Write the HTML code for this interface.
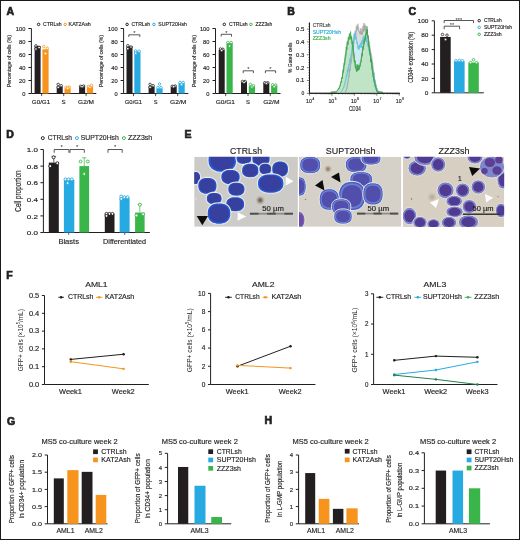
<!DOCTYPE html>
<html><head><meta charset="utf-8"><style>
html,body{margin:0;padding:0;background:#fff;}
svg{display:block;font-family:"Liberation Sans", sans-serif;will-change:transform;}
</style></head><body>
<svg width="520" height="540" viewBox="0 0 520 540">
<rect x="0.5" y="0.5" width="519" height="539" fill="#fff" stroke="#1a1a1a" stroke-width="1"/>
<text x="6.5" y="14.6" font-size="10.5" text-anchor="start" fill="#231f20" font-weight="bold" stroke="#231f20" stroke-width="0.7">A</text>
<text x="287.3" y="14.6" font-size="10.5" text-anchor="start" fill="#231f20" font-weight="bold" stroke="#231f20" stroke-width="0.7">B</text>
<text x="408.5" y="14.6" font-size="10.5" text-anchor="start" fill="#231f20" font-weight="bold" stroke="#231f20" stroke-width="0.7">C</text>
<text x="6.3" y="138.2" font-size="10.5" text-anchor="start" fill="#231f20" font-weight="bold" stroke="#231f20" stroke-width="0.7">D</text>
<text x="184.4" y="137.5" font-size="10.5" text-anchor="start" fill="#231f20" font-weight="bold" stroke="#231f20" stroke-width="0.7">E</text>
<text x="6.3" y="279" font-size="10.5" text-anchor="start" fill="#231f20" font-weight="bold" stroke="#231f20" stroke-width="0.7">F</text>
<text x="7" y="424.5" font-size="10.5" text-anchor="start" fill="#231f20" font-weight="bold" stroke="#231f20" stroke-width="0.7">G</text>
<text x="264.6" y="424.2" font-size="10.5" text-anchor="start" fill="#231f20" font-weight="bold" stroke="#231f20" stroke-width="0.7">H</text>
<g>
<line x1="31.4" y1="28.5" x2="31.4" y2="93.5" stroke="#231f20" stroke-width="1.0"/>
<line x1="28.4" y1="93.5" x2="31.4" y2="93.5" stroke="#231f20" stroke-width="1.0"/>
<text x="25.4" y="95.696" font-size="6.1" text-anchor="end" fill="#231f20" font-weight="normal" textLength="3.1999999999999997" lengthAdjust="spacingAndGlyphs" stroke="#231f20" stroke-width="0.15">0</text>
<line x1="28.4" y1="80.5" x2="31.4" y2="80.5" stroke="#231f20" stroke-width="1.0"/>
<text x="25.4" y="82.696" font-size="6.1" text-anchor="end" fill="#231f20" font-weight="normal" textLength="6.3999999999999995" lengthAdjust="spacingAndGlyphs" stroke="#231f20" stroke-width="0.15">20</text>
<line x1="28.4" y1="67.5" x2="31.4" y2="67.5" stroke="#231f20" stroke-width="1.0"/>
<text x="25.4" y="69.696" font-size="6.1" text-anchor="end" fill="#231f20" font-weight="normal" textLength="6.3999999999999995" lengthAdjust="spacingAndGlyphs" stroke="#231f20" stroke-width="0.15">40</text>
<line x1="28.4" y1="54.5" x2="31.4" y2="54.5" stroke="#231f20" stroke-width="1.0"/>
<text x="25.4" y="56.696" font-size="6.1" text-anchor="end" fill="#231f20" font-weight="normal" textLength="6.3999999999999995" lengthAdjust="spacingAndGlyphs" stroke="#231f20" stroke-width="0.15">60</text>
<line x1="28.4" y1="41.5" x2="31.4" y2="41.5" stroke="#231f20" stroke-width="1.0"/>
<text x="25.4" y="43.696" font-size="6.1" text-anchor="end" fill="#231f20" font-weight="normal" textLength="6.3999999999999995" lengthAdjust="spacingAndGlyphs" stroke="#231f20" stroke-width="0.15">80</text>
<line x1="28.4" y1="28.5" x2="31.4" y2="28.5" stroke="#231f20" stroke-width="1.0"/>
<text x="25.4" y="30.695999999999998" font-size="6.1" text-anchor="end" fill="#231f20" font-weight="normal" textLength="9.6" lengthAdjust="spacingAndGlyphs" stroke="#231f20" stroke-width="0.15">100</text>
<line x1="31.4" y1="93.5" x2="96.3" y2="93.5" stroke="#231f20" stroke-width="1.0"/>
<line x1="41.6" y1="93.5" x2="41.6" y2="96.1" stroke="#231f20" stroke-width="0.8"/>
<rect x="34.6" y="45.855" width="6.0" height="47.645" fill="#231f20"/>
<circle cx="35.92" cy="45.855" r="1.25" fill="#fff" stroke="#231f20" stroke-width="0.8"/>
<circle cx="35.92" cy="48.975" r="1.25" fill="#fff" stroke="#231f20" stroke-width="0.8"/>
<circle cx="39.1" cy="47.544999999999995" r="1.25" fill="#fff" stroke="#231f20" stroke-width="0.8"/>
<rect x="42.4" y="49.3" width="6.200000000000003" height="44.2" fill="#f7941d"/>
<circle cx="43.763999999999996" cy="46.505" r="1.25" fill="#fff" stroke="#f7941d" stroke-width="0.8"/>
<circle cx="47.236000000000004" cy="48.324999999999996" r="1.25" fill="#fff" stroke="#f7941d" stroke-width="0.8"/>
<circle cx="45.5" cy="53.525" r="1.25" fill="#fff" stroke="#f7941d" stroke-width="0.8"/>
<line x1="63.7" y1="93.5" x2="63.7" y2="96.1" stroke="#231f20" stroke-width="0.8"/>
<rect x="56.7" y="86.35" width="6.0" height="7.15" fill="#231f20"/>
<circle cx="58.2" cy="84.4" r="1.25" fill="#fff" stroke="#231f20" stroke-width="0.8"/>
<circle cx="61.2" cy="85.7" r="1.25" fill="#fff" stroke="#231f20" stroke-width="0.8"/>
<circle cx="58.2" cy="87.325" r="1.25" fill="#fff" stroke="#231f20" stroke-width="0.8"/>
<rect x="64.5" y="88.3" width="6.200000000000003" height="5.2" fill="#f7941d"/>
<circle cx="66.05" cy="87.325" r="1.25" fill="#fff" stroke="#f7941d" stroke-width="0.8"/>
<circle cx="69.15" cy="87.0" r="1.25" fill="#fff" stroke="#f7941d" stroke-width="0.8"/>
<circle cx="67.6" cy="88.3" r="1.25" fill="#fff" stroke="#f7941d" stroke-width="0.8"/>
<line x1="86.1" y1="93.5" x2="86.1" y2="96.1" stroke="#231f20" stroke-width="0.8"/>
<rect x="79.1" y="86.35" width="6.0" height="7.15" fill="#231f20"/>
<circle cx="80.6" cy="86.35" r="1.25" fill="#fff" stroke="#231f20" stroke-width="0.8"/>
<circle cx="83.6" cy="86.025" r="1.25" fill="#fff" stroke="#231f20" stroke-width="0.8"/>
<circle cx="82.1" cy="86.675" r="1.25" fill="#fff" stroke="#231f20" stroke-width="0.8"/>
<rect x="86.89999999999999" y="86.35" width="6.200000000000003" height="7.15" fill="#f7941d"/>
<circle cx="88.44999999999999" cy="86.35" r="1.25" fill="#fff" stroke="#f7941d" stroke-width="0.8"/>
<circle cx="91.55" cy="85.375" r="1.25" fill="#fff" stroke="#f7941d" stroke-width="0.8"/>
<circle cx="90.0" cy="87.325" r="1.25" fill="#fff" stroke="#f7941d" stroke-width="0.8"/>
<circle cx="38.6" cy="24.4" r="1.25" fill="#fff" stroke="#231f20" stroke-width="1.0"/>
<text x="43.0" y="26.299999999999997" font-size="5.2" text-anchor="start" fill="#231f20" font-weight="normal" textLength="18.7" lengthAdjust="spacingAndGlyphs" stroke="#231f20" stroke-width="0.15">CTRLsh</text>
<circle cx="65.2" cy="24.4" r="1.25" fill="#fff" stroke="#f7941d" stroke-width="1.0"/>
<text x="68.6" y="26.299999999999997" font-size="5.2" text-anchor="start" fill="#231f20" font-weight="normal" textLength="22.2" lengthAdjust="spacingAndGlyphs" stroke="#231f20" stroke-width="0.15">KAT2Ash</text>
<text x="41.0" y="104.2" font-size="5.9" text-anchor="middle" fill="#231f20" font-weight="normal" textLength="18.4" lengthAdjust="spacingAndGlyphs" stroke="#231f20" stroke-width="0.15">G0/G1</text>
<text x="63.65" y="104.2" font-size="5.9" text-anchor="middle" fill="#231f20" font-weight="normal" textLength="4.1" lengthAdjust="spacingAndGlyphs" stroke="#231f20" stroke-width="0.15">S</text>
<text x="86.05" y="104.2" font-size="5.9" text-anchor="middle" fill="#231f20" font-weight="normal" textLength="15.9" lengthAdjust="spacingAndGlyphs" stroke="#231f20" stroke-width="0.15">G2/M</text>
<text transform="translate(11.0,61.1) rotate(-90)" font-size="5.9" text-anchor="middle" fill="#231f20" font-weight="normal" textLength="51.8" lengthAdjust="spacingAndGlyphs" stroke="#231f20" stroke-width="0.15">Percentage of cells (%)</text>
<line x1="123.6" y1="28.5" x2="123.6" y2="93.5" stroke="#231f20" stroke-width="1.0"/>
<line x1="120.6" y1="93.5" x2="123.6" y2="93.5" stroke="#231f20" stroke-width="1.0"/>
<text x="117.6" y="95.696" font-size="6.1" text-anchor="end" fill="#231f20" font-weight="normal" textLength="3.1999999999999997" lengthAdjust="spacingAndGlyphs" stroke="#231f20" stroke-width="0.15">0</text>
<line x1="120.6" y1="80.5" x2="123.6" y2="80.5" stroke="#231f20" stroke-width="1.0"/>
<text x="117.6" y="82.696" font-size="6.1" text-anchor="end" fill="#231f20" font-weight="normal" textLength="6.3999999999999995" lengthAdjust="spacingAndGlyphs" stroke="#231f20" stroke-width="0.15">20</text>
<line x1="120.6" y1="67.5" x2="123.6" y2="67.5" stroke="#231f20" stroke-width="1.0"/>
<text x="117.6" y="69.696" font-size="6.1" text-anchor="end" fill="#231f20" font-weight="normal" textLength="6.3999999999999995" lengthAdjust="spacingAndGlyphs" stroke="#231f20" stroke-width="0.15">40</text>
<line x1="120.6" y1="54.5" x2="123.6" y2="54.5" stroke="#231f20" stroke-width="1.0"/>
<text x="117.6" y="56.696" font-size="6.1" text-anchor="end" fill="#231f20" font-weight="normal" textLength="6.3999999999999995" lengthAdjust="spacingAndGlyphs" stroke="#231f20" stroke-width="0.15">60</text>
<line x1="120.6" y1="41.5" x2="123.6" y2="41.5" stroke="#231f20" stroke-width="1.0"/>
<text x="117.6" y="43.696" font-size="6.1" text-anchor="end" fill="#231f20" font-weight="normal" textLength="6.3999999999999995" lengthAdjust="spacingAndGlyphs" stroke="#231f20" stroke-width="0.15">80</text>
<line x1="120.6" y1="28.5" x2="123.6" y2="28.5" stroke="#231f20" stroke-width="1.0"/>
<text x="117.6" y="30.695999999999998" font-size="6.1" text-anchor="end" fill="#231f20" font-weight="normal" textLength="9.6" lengthAdjust="spacingAndGlyphs" stroke="#231f20" stroke-width="0.15">100</text>
<line x1="123.6" y1="93.5" x2="188.3" y2="93.5" stroke="#231f20" stroke-width="1.0"/>
<line x1="133.5" y1="93.5" x2="133.5" y2="96.1" stroke="#231f20" stroke-width="0.8"/>
<rect x="126.5" y="46.114999999999995" width="6.0" height="47.385000000000005" fill="#231f20"/>
<circle cx="127.82" cy="45.725" r="1.25" fill="#fff" stroke="#231f20" stroke-width="0.8"/>
<circle cx="131.0" cy="47.025" r="1.25" fill="#fff" stroke="#231f20" stroke-width="0.8"/>
<circle cx="127.82" cy="48.65" r="1.25" fill="#fff" stroke="#231f20" stroke-width="0.8"/>
<rect x="134.3" y="51.25" width="6.199999999999989" height="42.25" fill="#27aae1"/>
<circle cx="135.66400000000002" cy="50.925" r="1.25" fill="#fff" stroke="#27aae1" stroke-width="0.8"/>
<circle cx="139.136" cy="51.25" r="1.25" fill="#fff" stroke="#27aae1" stroke-width="0.8"/>
<circle cx="135.66400000000002" cy="53.199999999999996" r="1.25" fill="#fff" stroke="#27aae1" stroke-width="0.8"/>
<line x1="155.6" y1="93.5" x2="155.6" y2="96.1" stroke="#231f20" stroke-width="0.8"/>
<rect x="148.6" y="86.35" width="6.0" height="7.15" fill="#231f20"/>
<circle cx="150.1" cy="84.4" r="1.25" fill="#fff" stroke="#231f20" stroke-width="0.8"/>
<circle cx="153.1" cy="85.7" r="1.25" fill="#fff" stroke="#231f20" stroke-width="0.8"/>
<circle cx="150.1" cy="87.325" r="1.25" fill="#fff" stroke="#231f20" stroke-width="0.8"/>
<rect x="156.4" y="88.3" width="6.199999999999989" height="5.2" fill="#27aae1"/>
<circle cx="159.5" cy="84.075" r="1.25" fill="#fff" stroke="#27aae1" stroke-width="0.8"/>
<circle cx="157.95" cy="87.65" r="1.25" fill="#fff" stroke="#27aae1" stroke-width="0.8"/>
<circle cx="161.05" cy="87.65" r="1.25" fill="#fff" stroke="#27aae1" stroke-width="0.8"/>
<line x1="177.7" y1="93.5" x2="177.7" y2="96.1" stroke="#231f20" stroke-width="0.8"/>
<rect x="170.7" y="87.0" width="6.0" height="6.5" fill="#231f20"/>
<circle cx="172.2" cy="86.35" r="1.25" fill="#fff" stroke="#231f20" stroke-width="0.8"/>
<circle cx="175.2" cy="86.025" r="1.25" fill="#fff" stroke="#231f20" stroke-width="0.8"/>
<circle cx="173.7" cy="86.675" r="1.25" fill="#fff" stroke="#231f20" stroke-width="0.8"/>
<rect x="178.5" y="83.1" width="6.199999999999989" height="10.4" fill="#27aae1"/>
<circle cx="180.05" cy="82.45" r="1.25" fill="#fff" stroke="#27aae1" stroke-width="0.8"/>
<circle cx="183.14999999999998" cy="82.45" r="1.25" fill="#fff" stroke="#27aae1" stroke-width="0.8"/>
<circle cx="181.6" cy="84.4" r="1.25" fill="#fff" stroke="#27aae1" stroke-width="0.8"/>
<circle cx="127.1" cy="24.4" r="1.25" fill="#fff" stroke="#231f20" stroke-width="1.0"/>
<text x="131.4" y="26.299999999999997" font-size="5.2" text-anchor="start" fill="#231f20" font-weight="normal" textLength="18.7" lengthAdjust="spacingAndGlyphs" stroke="#231f20" stroke-width="0.15">CTRLsh</text>
<circle cx="153.9" cy="24.4" r="1.25" fill="#fff" stroke="#27aae1" stroke-width="1.0"/>
<text x="158.3" y="26.299999999999997" font-size="5.2" text-anchor="start" fill="#231f20" font-weight="normal" textLength="28.6" lengthAdjust="spacingAndGlyphs" stroke="#231f20" stroke-width="0.15">SUPT20Hsh</text>
<path d="M128.8,36.9 V34.8 H139.8 V36.9" fill="none" stroke="#231f20" stroke-width="0.75"/>
<text x="134.3" y="34.5" font-size="6.0" text-anchor="middle" fill="#231f20" font-weight="normal" stroke="none">*</text>
<text x="133.45" y="104.2" font-size="5.9" text-anchor="middle" fill="#231f20" font-weight="normal" textLength="17.3" lengthAdjust="spacingAndGlyphs" stroke="#231f20" stroke-width="0.15">G0/G1</text>
<text x="155.6" y="104.2" font-size="5.9" text-anchor="middle" fill="#231f20" font-weight="normal" textLength="3.8" lengthAdjust="spacingAndGlyphs" stroke="#231f20" stroke-width="0.15">S</text>
<text x="178.15" y="104.2" font-size="5.9" text-anchor="middle" fill="#231f20" font-weight="normal" textLength="16.3" lengthAdjust="spacingAndGlyphs" stroke="#231f20" stroke-width="0.15">G2/M</text>
<text transform="translate(103.1,61.1) rotate(-90)" font-size="5.9" text-anchor="middle" fill="#231f20" font-weight="normal" textLength="51.8" lengthAdjust="spacingAndGlyphs" stroke="#231f20" stroke-width="0.15">Percentage of cells (%)</text>
<line x1="215.5" y1="28.5" x2="215.5" y2="93.5" stroke="#231f20" stroke-width="1.0"/>
<line x1="212.5" y1="93.5" x2="215.5" y2="93.5" stroke="#231f20" stroke-width="1.0"/>
<text x="209.5" y="95.696" font-size="6.1" text-anchor="end" fill="#231f20" font-weight="normal" textLength="3.1999999999999997" lengthAdjust="spacingAndGlyphs" stroke="#231f20" stroke-width="0.15">0</text>
<line x1="212.5" y1="80.5" x2="215.5" y2="80.5" stroke="#231f20" stroke-width="1.0"/>
<text x="209.5" y="82.696" font-size="6.1" text-anchor="end" fill="#231f20" font-weight="normal" textLength="6.3999999999999995" lengthAdjust="spacingAndGlyphs" stroke="#231f20" stroke-width="0.15">20</text>
<line x1="212.5" y1="67.5" x2="215.5" y2="67.5" stroke="#231f20" stroke-width="1.0"/>
<text x="209.5" y="69.696" font-size="6.1" text-anchor="end" fill="#231f20" font-weight="normal" textLength="6.3999999999999995" lengthAdjust="spacingAndGlyphs" stroke="#231f20" stroke-width="0.15">40</text>
<line x1="212.5" y1="54.5" x2="215.5" y2="54.5" stroke="#231f20" stroke-width="1.0"/>
<text x="209.5" y="56.696" font-size="6.1" text-anchor="end" fill="#231f20" font-weight="normal" textLength="6.3999999999999995" lengthAdjust="spacingAndGlyphs" stroke="#231f20" stroke-width="0.15">60</text>
<line x1="212.5" y1="41.5" x2="215.5" y2="41.5" stroke="#231f20" stroke-width="1.0"/>
<text x="209.5" y="43.696" font-size="6.1" text-anchor="end" fill="#231f20" font-weight="normal" textLength="6.3999999999999995" lengthAdjust="spacingAndGlyphs" stroke="#231f20" stroke-width="0.15">80</text>
<line x1="212.5" y1="28.5" x2="215.5" y2="28.5" stroke="#231f20" stroke-width="1.0"/>
<text x="209.5" y="30.695999999999998" font-size="6.1" text-anchor="end" fill="#231f20" font-weight="normal" textLength="9.6" lengthAdjust="spacingAndGlyphs" stroke="#231f20" stroke-width="0.15">100</text>
<line x1="215.5" y1="93.5" x2="280.5" y2="93.5" stroke="#231f20" stroke-width="1.0"/>
<line x1="225.7" y1="93.5" x2="225.7" y2="96.1" stroke="#231f20" stroke-width="0.8"/>
<rect x="218.7" y="49.949999999999996" width="6.0" height="43.550000000000004" fill="#231f20"/>
<circle cx="220.5" cy="48.975" r="1.25" fill="#fff" stroke="#231f20" stroke-width="0.8"/>
<circle cx="222.89999999999998" cy="49.3" r="1.25" fill="#fff" stroke="#231f20" stroke-width="0.8"/>
<circle cx="221.7" cy="50.6" r="1.25" fill="#fff" stroke="#231f20" stroke-width="0.8"/>
<rect x="226.5" y="42.8" width="6.199999999999989" height="50.7" fill="#39b54a"/>
<circle cx="227.864" cy="42.475" r="1.25" fill="#fff" stroke="#39b54a" stroke-width="0.8"/>
<circle cx="231.14999999999998" cy="42.475" r="1.25" fill="#fff" stroke="#39b54a" stroke-width="0.8"/>
<circle cx="229.6" cy="46.05" r="1.25" fill="#fff" stroke="#39b54a" stroke-width="0.8"/>
<line x1="248.0" y1="93.5" x2="248.0" y2="96.1" stroke="#231f20" stroke-width="0.8"/>
<rect x="241.0" y="81.8" width="6.0" height="11.700000000000001" fill="#231f20"/>
<circle cx="242.5" cy="81.475" r="1.25" fill="#fff" stroke="#231f20" stroke-width="0.8"/>
<circle cx="245.2" cy="81.475" r="1.25" fill="#fff" stroke="#231f20" stroke-width="0.8"/>
<circle cx="244.0" cy="82.45" r="1.25" fill="#fff" stroke="#231f20" stroke-width="0.8"/>
<rect x="248.8" y="85.7" width="6.199999999999989" height="7.800000000000001" fill="#39b54a"/>
<circle cx="250.35000000000002" cy="84.4" r="1.25" fill="#fff" stroke="#39b54a" stroke-width="0.8"/>
<circle cx="253.45" cy="85.7" r="1.25" fill="#fff" stroke="#39b54a" stroke-width="0.8"/>
<circle cx="251.9" cy="87.0" r="1.25" fill="#fff" stroke="#39b54a" stroke-width="0.8"/>
<line x1="270.3" y1="93.5" x2="270.3" y2="96.1" stroke="#231f20" stroke-width="0.8"/>
<rect x="263.3" y="83.1" width="6.0" height="10.4" fill="#231f20"/>
<circle cx="264.8" cy="82.775" r="1.25" fill="#fff" stroke="#231f20" stroke-width="0.8"/>
<circle cx="267.8" cy="82.775" r="1.25" fill="#fff" stroke="#231f20" stroke-width="0.8"/>
<circle cx="266.3" cy="83.425" r="1.25" fill="#fff" stroke="#231f20" stroke-width="0.8"/>
<rect x="271.1" y="85.7" width="6.199999999999989" height="7.800000000000001" fill="#39b54a"/>
<circle cx="272.65000000000003" cy="84.725" r="1.25" fill="#fff" stroke="#39b54a" stroke-width="0.8"/>
<circle cx="275.75" cy="85.05" r="1.25" fill="#fff" stroke="#39b54a" stroke-width="0.8"/>
<circle cx="274.20000000000005" cy="86.675" r="1.25" fill="#fff" stroke="#39b54a" stroke-width="0.8"/>
<circle cx="224.3" cy="24.4" r="1.25" fill="#fff" stroke="#231f20" stroke-width="1.0"/>
<text x="229.0" y="26.299999999999997" font-size="5.2" text-anchor="start" fill="#231f20" font-weight="normal" textLength="18.7" lengthAdjust="spacingAndGlyphs" stroke="#231f20" stroke-width="0.15">CTRLsh</text>
<circle cx="250.9" cy="24.4" r="1.25" fill="#fff" stroke="#39b54a" stroke-width="1.0"/>
<text x="255.5" y="26.299999999999997" font-size="5.2" text-anchor="start" fill="#231f20" font-weight="normal" textLength="16.7" lengthAdjust="spacingAndGlyphs" stroke="#231f20" stroke-width="0.15">ZZZ3sh</text>
<path d="M221.2,36.599999999999994 V34.3 H231.5 V36.599999999999994" fill="none" stroke="#231f20" stroke-width="0.75"/>
<text x="226.35" y="34.5" font-size="6.0" text-anchor="middle" fill="#231f20" font-weight="normal" stroke="none">*</text>
<path d="M243.2,73.1 V70.8 H253.4 V73.1" fill="none" stroke="#231f20" stroke-width="0.75"/>
<text x="248.3" y="71.0" font-size="6.0" text-anchor="middle" fill="#231f20" font-weight="normal" stroke="none">*</text>
<path d="M265.4,73.1 V70.8 H275.6 V73.1" fill="none" stroke="#231f20" stroke-width="0.75"/>
<text x="270.5" y="71.0" font-size="6.0" text-anchor="middle" fill="#231f20" font-weight="normal" stroke="none">*</text>
<text x="225.35" y="104.2" font-size="5.9" text-anchor="middle" fill="#231f20" font-weight="normal" textLength="19.3" lengthAdjust="spacingAndGlyphs" stroke="#231f20" stroke-width="0.15">G0/G1</text>
<text x="248.0" y="104.2" font-size="5.9" text-anchor="middle" fill="#231f20" font-weight="normal" textLength="4.0" lengthAdjust="spacingAndGlyphs" stroke="#231f20" stroke-width="0.15">S</text>
<text x="271.35" y="104.2" font-size="5.9" text-anchor="middle" fill="#231f20" font-weight="normal" textLength="16.3" lengthAdjust="spacingAndGlyphs" stroke="#231f20" stroke-width="0.15">G2/M</text>
<text transform="translate(195.6,61.1) rotate(-90)" font-size="5.9" text-anchor="middle" fill="#231f20" font-weight="normal" textLength="51.8" lengthAdjust="spacingAndGlyphs" stroke="#231f20" stroke-width="0.15">Percentage of cells (%)</text>
</g>
<g>
<line x1="309.5" y1="22.5" x2="309.5" y2="93.3" stroke="#231f20" stroke-width="1.0"/>
<line x1="306.9" y1="93.3" x2="309.5" y2="93.3" stroke="#231f20" stroke-width="0.6"/>
<text x="304.4" y="95.2" font-size="5.3" text-anchor="end" fill="#231f20" font-weight="normal" textLength="2.8" lengthAdjust="spacingAndGlyphs" stroke="#231f20" stroke-width="0.15">0</text>
<line x1="308.1" y1="90.732" x2="309.5" y2="90.732" stroke="#231f20" stroke-width="0.45"/>
<line x1="308.1" y1="88.164" x2="309.5" y2="88.164" stroke="#231f20" stroke-width="0.45"/>
<line x1="308.1" y1="85.596" x2="309.5" y2="85.596" stroke="#231f20" stroke-width="0.45"/>
<line x1="308.1" y1="83.02799999999999" x2="309.5" y2="83.02799999999999" stroke="#231f20" stroke-width="0.45"/>
<line x1="306.9" y1="80.46" x2="309.5" y2="80.46" stroke="#231f20" stroke-width="0.6"/>
<text x="304.4" y="82.36" font-size="5.3" text-anchor="end" fill="#231f20" font-weight="normal" textLength="8.3" lengthAdjust="spacingAndGlyphs" stroke="#231f20" stroke-width="0.15">0.1</text>
<line x1="308.1" y1="77.892" x2="309.5" y2="77.892" stroke="#231f20" stroke-width="0.45"/>
<line x1="308.1" y1="75.324" x2="309.5" y2="75.324" stroke="#231f20" stroke-width="0.45"/>
<line x1="308.1" y1="72.756" x2="309.5" y2="72.756" stroke="#231f20" stroke-width="0.45"/>
<line x1="308.1" y1="70.18799999999999" x2="309.5" y2="70.18799999999999" stroke="#231f20" stroke-width="0.45"/>
<line x1="306.9" y1="67.61999999999999" x2="309.5" y2="67.61999999999999" stroke="#231f20" stroke-width="0.6"/>
<text x="304.4" y="69.52" font-size="5.3" text-anchor="end" fill="#231f20" font-weight="normal" textLength="8.3" lengthAdjust="spacingAndGlyphs" stroke="#231f20" stroke-width="0.15">0.2</text>
<line x1="308.1" y1="65.05199999999999" x2="309.5" y2="65.05199999999999" stroke="#231f20" stroke-width="0.45"/>
<line x1="308.1" y1="62.483999999999995" x2="309.5" y2="62.483999999999995" stroke="#231f20" stroke-width="0.45"/>
<line x1="308.1" y1="59.916" x2="309.5" y2="59.916" stroke="#231f20" stroke-width="0.45"/>
<line x1="308.1" y1="57.34799999999999" x2="309.5" y2="57.34799999999999" stroke="#231f20" stroke-width="0.45"/>
<line x1="306.9" y1="54.779999999999994" x2="309.5" y2="54.779999999999994" stroke="#231f20" stroke-width="0.6"/>
<text x="304.4" y="56.67999999999999" font-size="5.3" text-anchor="end" fill="#231f20" font-weight="normal" textLength="8.3" lengthAdjust="spacingAndGlyphs" stroke="#231f20" stroke-width="0.15">0.3</text>
<line x1="308.1" y1="52.211999999999996" x2="309.5" y2="52.211999999999996" stroke="#231f20" stroke-width="0.45"/>
<line x1="308.1" y1="49.64399999999999" x2="309.5" y2="49.64399999999999" stroke="#231f20" stroke-width="0.45"/>
<line x1="308.1" y1="47.07599999999999" x2="309.5" y2="47.07599999999999" stroke="#231f20" stroke-width="0.45"/>
<line x1="308.1" y1="44.507999999999996" x2="309.5" y2="44.507999999999996" stroke="#231f20" stroke-width="0.45"/>
<line x1="306.9" y1="41.93999999999999" x2="309.5" y2="41.93999999999999" stroke="#231f20" stroke-width="0.6"/>
<text x="304.4" y="43.83999999999999" font-size="5.3" text-anchor="end" fill="#231f20" font-weight="normal" textLength="8.3" lengthAdjust="spacingAndGlyphs" stroke="#231f20" stroke-width="0.15">0.4</text>
<line x1="308.1" y1="39.372" x2="309.5" y2="39.372" stroke="#231f20" stroke-width="0.45"/>
<line x1="308.1" y1="36.803999999999995" x2="309.5" y2="36.803999999999995" stroke="#231f20" stroke-width="0.45"/>
<line x1="308.1" y1="34.23599999999999" x2="309.5" y2="34.23599999999999" stroke="#231f20" stroke-width="0.45"/>
<line x1="308.1" y1="31.668" x2="309.5" y2="31.668" stroke="#231f20" stroke-width="0.45"/>
<line x1="306.9" y1="29.099999999999994" x2="309.5" y2="29.099999999999994" stroke="#231f20" stroke-width="0.6"/>
<text x="304.4" y="30.999999999999993" font-size="5.3" text-anchor="end" fill="#231f20" font-weight="normal" textLength="8.3" lengthAdjust="spacingAndGlyphs" stroke="#231f20" stroke-width="0.15">0.5</text>
<line x1="308.1" y1="26.531999999999996" x2="309.5" y2="26.531999999999996" stroke="#231f20" stroke-width="0.45"/>
<line x1="308.1" y1="23.963999999999984" x2="309.5" y2="23.963999999999984" stroke="#231f20" stroke-width="0.45"/>
<line x1="309.5" y1="93.3" x2="399.8" y2="93.3" stroke="#231f20" stroke-width="1.0"/>
<line x1="309.5" y1="93.3" x2="309.5" y2="95.7" stroke="#231f20" stroke-width="0.6"/>
<text x="308.9" y="103.0" font-size="5.7" text-anchor="middle" fill="#231f20" font-weight="normal" textLength="5.8" lengthAdjust="spacingAndGlyphs" stroke="#231f20" stroke-width="0.15">10</text>
<text x="312.4" y="100.4" font-size="3.0" text-anchor="start" fill="#231f20" font-weight="normal" stroke="#231f20" stroke-width="0.15">4</text>
<line x1="316.2581234026564" y1="93.3" x2="316.2581234026564" y2="94.6" stroke="#231f20" stroke-width="0.4"/>
<line x1="320.2113721684564" y1="93.3" x2="320.2113721684564" y2="94.6" stroke="#231f20" stroke-width="0.4"/>
<line x1="323.01624680531273" y1="93.3" x2="323.01624680531273" y2="94.6" stroke="#231f20" stroke-width="0.4"/>
<line x1="325.1918765973436" y1="93.3" x2="325.1918765973436" y2="94.6" stroke="#231f20" stroke-width="0.4"/>
<line x1="326.9694955711128" y1="93.3" x2="326.9694955711128" y2="94.6" stroke="#231f20" stroke-width="0.4"/>
<line x1="328.4724509983201" y1="93.3" x2="328.4724509983201" y2="94.6" stroke="#231f20" stroke-width="0.4"/>
<line x1="329.7743702079691" y1="93.3" x2="329.7743702079691" y2="94.6" stroke="#231f20" stroke-width="0.4"/>
<line x1="330.92274433691284" y1="93.3" x2="330.92274433691284" y2="94.6" stroke="#231f20" stroke-width="0.4"/>
<line x1="331.95" y1="93.3" x2="331.95" y2="95.7" stroke="#231f20" stroke-width="0.6"/>
<text x="331.34999999999997" y="103.0" font-size="5.7" text-anchor="middle" fill="#231f20" font-weight="normal" textLength="5.8" lengthAdjust="spacingAndGlyphs" stroke="#231f20" stroke-width="0.15">10</text>
<text x="334.84999999999997" y="100.4" font-size="3.0" text-anchor="start" fill="#231f20" font-weight="normal" stroke="#231f20" stroke-width="0.15">5</text>
<line x1="338.7081234026564" y1="93.3" x2="338.7081234026564" y2="94.6" stroke="#231f20" stroke-width="0.4"/>
<line x1="342.6613721684564" y1="93.3" x2="342.6613721684564" y2="94.6" stroke="#231f20" stroke-width="0.4"/>
<line x1="345.4662468053128" y1="93.3" x2="345.4662468053128" y2="94.6" stroke="#231f20" stroke-width="0.4"/>
<line x1="347.64187659734364" y1="93.3" x2="347.64187659734364" y2="94.6" stroke="#231f20" stroke-width="0.4"/>
<line x1="349.4194955711128" y1="93.3" x2="349.4194955711128" y2="94.6" stroke="#231f20" stroke-width="0.4"/>
<line x1="350.9224509983201" y1="93.3" x2="350.9224509983201" y2="94.6" stroke="#231f20" stroke-width="0.4"/>
<line x1="352.2243702079691" y1="93.3" x2="352.2243702079691" y2="94.6" stroke="#231f20" stroke-width="0.4"/>
<line x1="353.37274433691283" y1="93.3" x2="353.37274433691283" y2="94.6" stroke="#231f20" stroke-width="0.4"/>
<line x1="354.4" y1="93.3" x2="354.4" y2="95.7" stroke="#231f20" stroke-width="0.6"/>
<text x="353.79999999999995" y="103.0" font-size="5.7" text-anchor="middle" fill="#231f20" font-weight="normal" textLength="5.8" lengthAdjust="spacingAndGlyphs" stroke="#231f20" stroke-width="0.15">10</text>
<text x="357.29999999999995" y="100.4" font-size="3.0" text-anchor="start" fill="#231f20" font-weight="normal" stroke="#231f20" stroke-width="0.15">6</text>
<line x1="361.1581234026564" y1="93.3" x2="361.1581234026564" y2="94.6" stroke="#231f20" stroke-width="0.4"/>
<line x1="365.11137216845646" y1="93.3" x2="365.11137216845646" y2="94.6" stroke="#231f20" stroke-width="0.4"/>
<line x1="367.91624680531277" y1="93.3" x2="367.91624680531277" y2="94.6" stroke="#231f20" stroke-width="0.4"/>
<line x1="370.0918765973436" y1="93.3" x2="370.0918765973436" y2="94.6" stroke="#231f20" stroke-width="0.4"/>
<line x1="371.8694955711128" y1="93.3" x2="371.8694955711128" y2="94.6" stroke="#231f20" stroke-width="0.4"/>
<line x1="373.37245099832006" y1="93.3" x2="373.37245099832006" y2="94.6" stroke="#231f20" stroke-width="0.4"/>
<line x1="374.6743702079691" y1="93.3" x2="374.6743702079691" y2="94.6" stroke="#231f20" stroke-width="0.4"/>
<line x1="375.8227443369128" y1="93.3" x2="375.8227443369128" y2="94.6" stroke="#231f20" stroke-width="0.4"/>
<line x1="376.85" y1="93.3" x2="376.85" y2="95.7" stroke="#231f20" stroke-width="0.6"/>
<text x="376.25" y="103.0" font-size="5.7" text-anchor="middle" fill="#231f20" font-weight="normal" textLength="5.8" lengthAdjust="spacingAndGlyphs" stroke="#231f20" stroke-width="0.15">10</text>
<text x="379.75" y="100.4" font-size="3.0" text-anchor="start" fill="#231f20" font-weight="normal" stroke="#231f20" stroke-width="0.15">7</text>
<line x1="383.60812340265636" y1="93.3" x2="383.60812340265636" y2="94.6" stroke="#231f20" stroke-width="0.4"/>
<line x1="387.56137216845644" y1="93.3" x2="387.56137216845644" y2="94.6" stroke="#231f20" stroke-width="0.4"/>
<line x1="390.36624680531276" y1="93.3" x2="390.36624680531276" y2="94.6" stroke="#231f20" stroke-width="0.4"/>
<line x1="392.5418765973436" y1="93.3" x2="392.5418765973436" y2="94.6" stroke="#231f20" stroke-width="0.4"/>
<line x1="394.3194955711128" y1="93.3" x2="394.3194955711128" y2="94.6" stroke="#231f20" stroke-width="0.4"/>
<line x1="395.82245099832005" y1="93.3" x2="395.82245099832005" y2="94.6" stroke="#231f20" stroke-width="0.4"/>
<line x1="397.12437020796915" y1="93.3" x2="397.12437020796915" y2="94.6" stroke="#231f20" stroke-width="0.4"/>
<line x1="398.27274433691287" y1="93.3" x2="398.27274433691287" y2="94.6" stroke="#231f20" stroke-width="0.4"/>
<line x1="399.3" y1="93.3" x2="399.3" y2="95.7" stroke="#231f20" stroke-width="0.6"/>
<text x="398.7" y="103.0" font-size="5.7" text-anchor="middle" fill="#231f20" font-weight="normal" textLength="5.8" lengthAdjust="spacingAndGlyphs" stroke="#231f20" stroke-width="0.15">10</text>
<text x="402.2" y="100.4" font-size="3.0" text-anchor="start" fill="#231f20" font-weight="normal" stroke="#231f20" stroke-width="0.15">8</text>
<text x="354.9" y="111.0" font-size="6.3" text-anchor="middle" fill="#231f20" font-weight="normal" textLength="11.8" lengthAdjust="spacingAndGlyphs" stroke="#231f20" stroke-width="0.15">CD34</text>
<text transform="translate(292.1,57.7) rotate(-90)" font-size="6.2" text-anchor="middle" fill="#231f20" font-weight="normal" textLength="30.4" lengthAdjust="spacingAndGlyphs" stroke="#231f20" stroke-width="0.15">% Gated cells</text>
<text x="312.7" y="26.5" font-size="4.9" text-anchor="start" fill="#444" font-weight="normal" textLength="17.9" lengthAdjust="spacingAndGlyphs" stroke="#444" stroke-width="0.15">CTRLsh</text>
<text x="312.7" y="33.5" font-size="4.9" text-anchor="start" fill="#27aae1" font-weight="normal" textLength="28.3" lengthAdjust="spacingAndGlyphs" stroke="#27aae1" stroke-width="0.15">SUPT20Hsh</text>
<text x="312.7" y="40.3" font-size="4.9" text-anchor="start" fill="#39b54a" font-weight="normal" textLength="17.9" lengthAdjust="spacingAndGlyphs" stroke="#39b54a" stroke-width="0.15">ZZZ3sh</text>
<polygon points="345.24,92.29 345.74,91.31 346.24,89.90 346.74,89.29 347.24,85.87 347.74,83.92 348.24,79.26 348.74,79.28 349.24,73.64 349.74,72.63 350.24,67.88 350.74,65.26 351.24,60.53 351.74,58.81 352.24,54.08 352.74,51.60 353.24,46.05 353.74,43.32 354.24,40.08 354.74,39.23 355.24,32.72 355.74,34.39 356.24,28.78 356.74,29.31 357.24,26.46 357.74,27.84 358.24,28.34 358.74,31.47 359.24,30.43 359.74,33.24 360.24,30.05 360.74,33.53 361.24,29.87 361.74,34.33 362.24,30.90 362.74,32.17 363.24,28.85 363.74,29.62 364.24,28.87 364.74,30.83 365.24,29.58 365.74,32.04 366.24,31.08 366.74,34.71 367.24,31.53 367.74,37.75 368.24,35.47 368.74,41.82 369.24,41.27 369.74,47.18 370.24,48.36 370.74,54.16 371.24,55.42 371.74,61.01 372.24,60.00 372.74,67.79 373.24,69.78 373.74,75.31 374.24,77.21 374.74,81.09 375.24,81.46 375.74,84.19 376.24,86.09 376.74,88.43 377.24,88.93 377.74,90.42 378.24,90.79 378.74,91.72 379.21,93.30" fill="#dcdcdc"/>
<polygon points="340.90,92.29 341.40,91.62 341.90,90.75 342.40,90.04 342.90,88.68 343.40,88.58 343.90,87.45 344.40,85.78 344.90,83.10 345.40,82.06 345.90,79.16 346.40,78.31 346.90,74.84 347.40,74.14 347.90,68.76 348.40,69.91 348.90,63.86 349.40,64.73 349.90,61.31 350.40,59.71 350.90,54.60 351.40,53.91 351.90,50.45 352.40,48.76 352.90,43.29 353.40,42.85 353.90,36.66 354.40,39.07 354.90,35.80 355.40,37.54 355.90,37.27 356.40,41.33 356.90,40.34 357.40,45.64 357.90,45.20 358.40,49.77 358.90,46.47 359.40,47.91 359.90,44.88 360.40,47.46 360.90,45.87 361.40,45.42 361.90,42.72 362.40,42.91 362.90,38.89 363.40,40.90 363.90,37.76 364.40,39.59 364.90,37.84 365.40,41.13 365.90,39.93 366.40,41.56 366.90,40.09 367.40,43.91 367.90,43.98 368.40,48.16 368.90,48.49 369.40,52.30 369.90,52.37 370.40,56.86 370.90,56.78 371.40,63.14 371.90,64.67 372.40,69.19 372.90,68.82 373.40,75.03 373.90,75.45 374.40,79.37 374.90,81.47 375.40,84.51 375.90,85.94 376.40,87.89 376.90,89.23 377.40,91.11 377.77,93.30" fill="#cfeaf2"/>
<polygon points="331.08,93.09 331.58,93.05 332.08,93.01 332.58,92.97 333.08,92.94 333.58,92.90 334.08,92.86 334.58,92.82 335.08,92.79 335.58,92.75 336.08,92.71 336.58,92.67 337.08,92.36 337.58,91.70 338.08,90.99 338.58,90.38 339.08,89.65 339.58,89.04 340.08,87.48 340.58,85.87 341.08,83.80 341.58,82.37 342.08,80.26 342.58,78.88 343.08,75.66 343.58,72.62 344.08,67.87 344.58,65.80 345.08,62.15 345.58,59.40 346.08,54.33 346.58,52.70 347.08,48.77 347.58,47.44 348.08,44.56 348.58,42.71 349.08,39.59 349.58,38.81 350.08,37.62 350.58,36.90 351.08,36.98 351.58,39.75 352.08,40.48 352.58,44.60 353.08,46.80 353.58,50.92 354.08,55.57 354.58,60.66 355.08,64.60 355.58,67.43 356.08,68.79 356.58,70.78 357.08,69.67 357.58,70.54 358.08,69.79 358.58,70.40 359.08,67.34 359.58,66.45 360.08,63.55 360.58,62.60 361.08,58.56 361.58,57.22 362.08,53.50 362.58,51.35 363.08,47.82 363.58,45.82 364.08,42.19 364.58,41.01 365.08,37.97 365.58,36.15 366.08,32.71 366.58,31.54 367.08,33.81 367.58,39.04 368.08,42.20 368.58,46.60 369.08,49.10 369.58,53.87 370.08,56.65 370.58,61.34 371.08,63.17 371.58,68.49 372.08,70.99 372.58,75.25 373.08,77.13 373.58,80.77 374.08,82.47 374.58,86.04 375.08,87.38 375.58,89.12 376.08,90.55 376.58,92.28 377.08,92.81 377.58,92.84 378.08,92.86 378.58,92.89 379.08,92.91 379.58,92.94 380.08,92.96 380.58,92.99 381.08,93.01 381.58,93.04 382.08,93.06 382.53,93.30" fill="#c0e4c6"/>
<polyline points="345.24,92.29 345.79,91.40 346.34,90.08 346.89,88.69 347.44,85.11 347.99,83.56 348.54,79.47 349.09,77.83 349.64,68.80 350.19,70.72 350.74,59.26 351.29,61.87 351.84,55.61 352.39,54.61 352.94,47.69 353.49,45.42 354.04,40.08 354.59,40.33 355.14,30.86 355.69,35.07 356.24,30.02 356.79,31.03 357.34,24.48 357.89,28.08 358.44,26.90 358.99,31.77 359.54,32.25 360.09,34.33 360.64,31.57 361.19,34.71 361.74,28.19 362.29,34.10 362.84,29.43 363.39,31.99 363.94,22.93 364.49,30.31 365.04,24.41 365.59,30.79 366.14,30.91 366.69,33.55 367.24,29.47 367.79,38.31 368.34,34.65 368.89,42.51 369.44,42.63 369.99,50.37 370.54,51.43 371.09,55.35 371.64,58.82 372.19,64.08 372.74,62.35 373.29,72.51 373.84,73.68 374.39,79.54 374.94,80.50 375.49,84.18 376.04,84.69 376.59,87.71 377.14,89.24 377.69,90.52 378.24,90.81 378.79,91.87 379.21,93.30" fill="none" stroke="#a0a0a0" stroke-width="0.4"/>
<polyline points="345.24,92.29 345.79,91.27 346.34,89.69 346.89,88.52 347.44,84.47 347.99,82.91 348.54,77.00 349.09,76.72 349.64,69.11 350.19,68.95 350.74,63.83 351.29,62.07 351.84,56.67 352.39,54.68 352.94,47.52 353.49,46.53 354.04,35.41 354.59,39.06 355.14,30.72 355.69,35.10 356.24,27.32 356.79,29.15 357.34,24.82 357.89,28.91 358.44,27.85 358.99,31.36 359.54,31.07 360.09,33.68 360.64,28.82 361.19,34.24 361.74,31.55 362.29,34.09 362.84,25.83 363.39,30.79 363.94,28.75 364.49,31.33 365.04,25.20 365.59,32.41 366.14,28.72 366.69,33.68 367.24,34.38 367.79,37.50 368.34,36.32 368.89,42.04 369.44,41.30 369.99,50.03 370.54,51.77 371.09,56.87 371.64,56.41 372.19,65.03 372.74,64.77 373.29,73.02 373.84,73.40 374.39,79.71 374.94,79.36 375.49,83.20 376.04,85.14 376.59,87.71 377.14,89.14 377.69,90.37 378.24,90.66 378.79,91.83 379.21,93.30" fill="none" stroke="#b0b0b0" stroke-width="0.4"/>
<polyline points="345.24,92.29 345.79,91.32 346.34,89.41 346.89,88.72 347.44,83.16 347.99,83.28 348.54,75.75 349.09,76.31 349.64,70.19 350.19,70.90 350.74,61.69 351.29,63.26 351.84,56.80 352.39,54.10 352.94,47.87 353.49,46.01 354.04,38.02 354.59,38.56 355.14,35.01 355.69,33.99 356.24,25.61 356.79,30.70 357.34,26.50 357.89,29.26 358.44,28.68 358.99,32.19 359.54,32.04 360.09,33.15 360.64,28.24 361.19,33.95 361.74,32.74 362.29,34.81 362.84,26.37 363.39,30.79 363.94,23.17 364.49,30.41 365.04,26.25 365.59,31.18 366.14,25.90 366.69,34.64 367.24,29.26 367.79,38.73 368.34,37.28 368.89,42.66 369.44,44.51 369.99,48.81 370.54,51.58 371.09,55.74 371.64,55.70 372.19,63.10 372.74,63.46 373.29,72.06 373.84,74.16 374.39,80.02 374.94,79.44 375.49,83.51 376.04,84.38 376.59,88.00 377.14,89.48 377.69,90.57 378.24,90.98 378.79,91.84 379.21,93.30" fill="none" stroke="#969696" stroke-width="0.35"/>
<polyline points="345.24,92.29 345.79,91.27 346.34,89.21 346.89,88.75 347.44,85.00 347.99,83.43 348.54,77.10 349.09,76.33 349.64,66.93 350.19,69.46 350.74,63.81 351.29,62.26 351.84,54.07 352.39,53.38 352.94,45.17 353.49,46.62 354.04,38.41 354.59,40.20 355.14,32.55 355.69,35.13 356.24,30.24 356.79,29.84 357.34,24.74 357.89,27.81 358.44,23.43 358.99,32.23 359.54,32.17 360.09,34.37 360.64,31.24 361.19,33.91 361.74,33.02 362.29,33.71 362.84,31.21 363.39,31.36 363.94,26.19 364.49,29.55 365.04,24.90 365.59,30.83 366.14,30.76 366.69,34.91 367.24,34.04 367.79,37.75 368.34,35.70 368.89,42.82 369.44,42.63 369.99,49.57 370.54,49.30 371.09,55.23 371.64,54.27 372.19,63.69 372.74,67.07 373.29,72.20 373.84,71.29 374.39,79.73 374.94,79.53 375.49,83.68 376.04,84.99 376.59,87.94 377.14,89.20 377.69,90.27 378.24,90.93 378.79,91.74 379.21,93.30" fill="none" stroke="#a8a8a8" stroke-width="0.35"/>
<polyline points="340.90,92.29 341.45,91.59 342.00,90.11 342.55,89.96 343.10,88.77 343.65,88.16 344.20,85.25 344.75,84.49 345.30,79.87 345.85,80.16 346.40,74.63 346.95,75.74 347.50,69.28 348.05,72.19 348.60,66.41 349.15,66.23 349.70,59.27 350.25,59.91 350.80,54.25 351.35,55.26 351.90,49.84 352.45,48.97 353.00,41.08 353.55,42.44 354.10,37.16 354.65,37.85 355.20,33.03 355.75,39.70 356.30,38.74 356.85,43.13 357.40,44.60 357.95,48.76 358.50,47.53 359.05,49.78 359.60,44.92 360.15,47.36 360.70,43.45 361.25,46.38 361.80,39.77 362.35,44.59 362.90,39.37 363.45,41.38 364.00,35.63 364.55,40.72 365.10,35.00 365.65,40.46 366.20,39.49 366.75,42.57 367.30,41.99 367.85,46.43 368.40,47.32 368.95,51.33 369.50,49.69 370.05,54.87 370.60,54.91 371.15,61.81 371.70,63.86 372.25,68.71 372.80,70.61 373.35,74.18 373.90,73.05 374.45,80.18 375.00,82.06 375.55,85.40 376.10,86.72 376.65,88.70 377.20,89.76 377.75,92.23 377.77,93.30" fill="none" stroke="#58c2df" stroke-width="0.45"/>
<polyline points="340.90,92.29 341.45,91.50 342.00,90.00 342.55,89.85 343.10,88.28 343.65,88.20 344.20,85.99 344.75,84.92 345.30,81.48 345.85,80.48 346.40,75.96 346.95,76.03 347.50,70.96 348.05,71.25 348.60,64.15 349.15,65.45 349.70,61.55 350.25,59.60 350.80,55.68 351.35,54.56 351.90,46.44 352.45,48.23 353.00,43.89 353.55,41.41 354.10,33.56 354.65,37.80 355.20,34.04 355.75,38.96 356.30,37.59 356.85,43.56 357.40,42.10 357.95,48.52 358.50,45.68 359.05,49.69 359.60,44.95 360.15,47.26 360.70,46.28 361.25,47.40 361.80,42.26 362.35,43.34 362.90,36.94 363.45,41.26 364.00,35.45 364.55,40.85 365.10,38.75 365.65,41.04 366.20,36.69 366.75,41.75 367.30,39.57 367.85,45.57 368.40,44.39 368.95,51.02 369.50,47.29 370.05,56.14 370.60,55.77 371.15,61.61 371.70,64.05 372.25,68.79 372.80,68.84 373.35,73.94 373.90,72.87 374.45,79.94 375.00,80.24 375.55,84.98 376.10,86.43 376.65,88.57 377.20,90.20 377.75,92.23 377.77,93.30" fill="none" stroke="#58c2df" stroke-width="0.45"/>
<polyline points="340.90,92.29 341.45,91.58 342.00,90.54 342.55,89.87 343.10,88.40 343.65,88.19 344.20,85.03 344.75,84.73 345.30,81.85 345.85,80.53 346.40,75.79 346.95,76.31 347.50,68.39 348.05,72.64 348.60,66.44 349.15,66.77 349.70,58.68 350.25,61.27 350.80,56.64 351.35,55.49 351.90,50.04 352.45,47.79 353.00,41.57 353.55,42.43 354.10,33.77 354.65,38.32 355.20,32.88 355.75,38.35 356.30,35.82 356.85,43.48 357.40,42.90 357.95,47.86 358.50,48.55 359.05,48.13 359.60,44.85 360.15,47.99 360.70,42.55 361.25,47.24 361.80,42.59 362.35,44.48 362.90,40.89 363.45,41.79 364.00,37.92 364.55,40.96 365.10,38.28 365.65,41.16 366.20,38.69 366.75,41.62 367.30,42.97 367.85,46.35 368.40,44.26 368.95,49.87 369.50,50.30 370.05,55.31 370.60,54.25 371.15,63.00 371.70,64.29 372.25,68.82 372.80,70.74 373.35,75.16 373.90,72.68 374.45,80.19 375.00,80.61 375.55,84.85 376.10,86.63 376.65,88.67 377.20,90.36 377.75,92.23 377.77,93.30" fill="none" stroke="#58c2df" stroke-width="0.45"/>
<polyline points="330.78,92.29 331.33,92.24 331.88,92.20 332.43,92.16 332.98,92.12 333.53,92.08 334.08,92.04 334.63,92.00 335.18,91.96 335.73,91.91 336.28,91.87 336.83,91.57 337.38,90.53 337.93,90.05 338.48,88.33 339.03,88.52 339.58,86.81 340.13,86.25 340.68,83.53 341.23,82.35 341.78,77.73 342.33,77.94 342.88,72.63 343.43,71.95 343.98,64.81 344.53,64.66 345.08,59.00 345.63,56.39 346.18,51.87 346.73,49.67 347.28,41.13 347.83,44.70 348.38,36.95 348.93,39.38 349.48,33.67 350.03,36.63 350.58,35.50 351.13,39.70 351.68,36.31 352.23,43.97 352.78,46.17 353.33,50.84 353.88,54.98 354.43,61.87 354.98,60.66 355.53,67.79 356.08,65.12 356.63,71.43 357.18,69.43 357.73,70.19 358.28,66.98 358.83,69.23 359.38,65.55 359.93,67.06 360.48,62.72 361.03,62.07 361.58,57.40 362.13,55.65 362.68,46.42 363.23,48.33 363.78,45.25 364.33,42.86 364.88,37.51 365.43,37.60 365.98,34.55 366.53,33.04 367.08,26.39 367.63,36.59 368.18,38.36 368.73,45.57 369.28,48.05 369.83,53.52 370.38,55.77 370.93,61.64 371.48,59.28 372.03,68.64 372.58,69.86 373.13,76.78 373.68,78.28 374.23,81.92 374.78,82.16 375.33,87.17 375.88,88.17 376.43,90.26 376.98,91.41 377.53,92.02 378.08,92.05 378.63,92.08 379.18,92.10 379.73,92.13 380.28,92.16 380.83,92.19 381.38,92.21 381.93,92.24 382.48,92.27 382.83,93.30" fill="none" stroke="#379a44" stroke-width="0.6"/>
<polyline points="330.78,92.29 331.33,92.24 331.88,92.20 332.43,92.16 332.98,92.12 333.53,92.08 334.08,92.04 334.63,92.00 335.18,91.96 335.73,91.91 336.28,91.87 336.83,91.59 337.38,90.49 337.93,90.19 338.48,89.10 339.03,88.90 339.58,86.25 340.13,86.07 340.68,83.36 341.23,82.31 341.78,78.84 342.33,78.25 342.88,69.33 343.43,72.52 343.98,66.80 344.53,64.92 345.08,56.60 345.63,56.67 346.18,51.05 346.73,49.99 347.28,43.98 347.83,44.88 348.38,37.64 348.93,38.89 349.48,33.53 350.03,38.33 350.58,31.45 351.13,39.58 351.68,39.92 352.23,43.17 352.78,45.97 353.33,52.14 353.88,54.52 354.43,62.03 354.98,60.09 355.53,68.01 356.08,67.20 356.63,70.58 357.18,69.40 357.73,70.59 358.28,64.84 358.83,69.49 359.38,66.61 359.93,66.11 360.48,63.01 361.03,61.88 361.58,53.52 362.13,55.81 362.68,48.65 363.23,49.59 363.78,44.71 364.33,43.79 364.88,38.44 365.43,38.73 365.98,34.43 366.53,33.58 367.08,31.04 367.63,36.10 368.18,35.92 368.73,46.16 369.28,46.35 369.83,53.20 370.38,55.42 370.93,61.00 371.48,61.42 372.03,68.88 372.58,72.14 373.13,76.52 373.68,78.23 374.23,82.35 374.78,82.66 375.33,87.02 375.88,87.70 376.43,90.14 376.98,91.64 377.53,92.02 378.08,92.05 378.63,92.08 379.18,92.10 379.73,92.13 380.28,92.16 380.83,92.19 381.38,92.21 381.93,92.24 382.48,92.27 382.83,93.30" fill="none" stroke="#43a84f" stroke-width="0.55"/>
<polyline points="330.78,92.29 331.33,92.24 331.88,92.20 332.43,92.16 332.98,92.12 333.53,92.08 334.08,92.04 334.63,92.00 335.18,91.96 335.73,91.91 336.28,91.87 336.83,91.57 337.38,90.40 337.93,90.30 338.48,88.82 339.03,88.75 339.58,86.67 340.13,85.72 340.68,82.47 341.23,82.43 341.78,77.00 342.33,78.02 342.88,73.02 343.43,70.77 343.98,62.66 344.53,64.60 345.08,59.48 345.63,57.82 346.18,47.00 346.73,49.95 347.28,43.06 347.83,43.86 348.38,40.96 348.93,39.65 349.48,37.35 350.03,36.80 350.58,35.75 351.13,38.46 351.68,37.86 352.23,44.01 352.78,41.99 353.33,51.33 353.88,52.61 354.43,62.29 354.98,61.57 355.53,68.28 356.08,68.69 356.63,71.66 357.18,64.13 357.73,71.08 358.28,65.69 358.83,69.80 359.38,66.58 359.93,65.88 360.48,62.89 361.03,62.40 361.58,56.01 362.13,56.17 362.68,49.48 363.23,49.78 363.78,40.76 364.33,42.70 364.88,39.29 365.43,39.32 365.98,32.61 366.53,33.97 367.08,29.56 367.63,35.92 368.18,37.02 368.73,45.83 369.28,47.23 369.83,52.57 370.38,54.97 370.93,62.33 371.48,60.56 372.03,68.76 372.58,71.55 373.13,75.93 373.68,78.55 374.23,82.52 374.78,84.25 375.33,86.88 375.88,87.75 376.43,90.10 376.98,91.51 377.53,92.02 378.08,92.05 378.63,92.08 379.18,92.10 379.73,92.13 380.28,92.16 380.83,92.19 381.38,92.21 381.93,92.24 382.48,92.27 382.83,93.30" fill="none" stroke="#2f8f3c" stroke-width="0.5"/>
<polyline points="330.78,92.29 331.33,92.24 331.88,92.20 332.43,92.16 332.98,92.12 333.53,92.08 334.08,92.04 334.63,92.00 335.18,91.96 335.73,91.91 336.28,91.87 336.83,91.57 337.38,90.32 337.93,90.22 338.48,89.16 339.03,88.53 339.58,87.02 340.13,85.79 340.68,81.60 341.23,82.50 341.78,77.79 342.33,78.71 342.88,71.08 343.43,70.88 343.98,64.88 344.53,63.58 345.08,54.71 345.63,56.05 346.18,47.94 346.73,48.84 347.28,42.62 347.83,44.21 348.38,39.14 348.93,40.26 349.48,37.49 350.03,36.55 350.58,31.81 351.13,39.38 351.68,39.74 352.23,45.06 352.78,41.31 353.33,50.55 353.88,53.87 354.43,61.59 354.98,63.56 355.53,68.60 356.08,69.25 356.63,71.08 357.18,69.45 357.73,69.79 358.28,65.02 358.83,69.96 359.38,65.58 359.93,66.47 360.48,60.86 361.03,61.66 361.58,57.76 362.13,55.94 362.68,45.95 363.23,49.82 363.78,41.91 364.33,43.39 364.88,38.50 365.43,38.90 365.98,31.41 366.53,32.30 367.08,30.41 367.63,36.48 368.18,37.72 368.73,45.90 369.28,45.98 369.83,52.46 370.38,52.09 370.93,61.30 371.48,62.00 372.03,68.96 372.58,70.59 373.13,76.41 373.68,75.74 374.23,81.74 374.78,83.38 375.33,86.63 375.88,87.38 376.43,90.05 376.98,91.71 377.53,92.02 378.08,92.05 378.63,92.08 379.18,92.10 379.73,92.13 380.28,92.16 380.83,92.19 381.38,92.21 381.93,92.24 382.48,92.27 382.83,93.30" fill="none" stroke="#4cb058" stroke-width="0.5"/>
<line x1="309.5" y1="93.3" x2="399.8" y2="93.3" stroke="#231f20" stroke-width="1.0"/>
</g>
<g>
<line x1="434.4" y1="20.8" x2="434.4" y2="92.8" stroke="#231f20" stroke-width="1.0"/>
<line x1="431.7" y1="92.8" x2="434.4" y2="92.8" stroke="#231f20" stroke-width="1.0"/>
<text x="428.4" y="95.032" font-size="6.2" text-anchor="end" fill="#231f20" font-weight="normal" textLength="3.6" lengthAdjust="spacingAndGlyphs" stroke="#231f20" stroke-width="0.15">0</text>
<line x1="431.7" y1="78.39999999999999" x2="434.4" y2="78.39999999999999" stroke="#231f20" stroke-width="1.0"/>
<text x="428.4" y="80.63199999999999" font-size="6.2" text-anchor="end" fill="#231f20" font-weight="normal" textLength="7.2" lengthAdjust="spacingAndGlyphs" stroke="#231f20" stroke-width="0.15">20</text>
<line x1="431.7" y1="64.0" x2="434.4" y2="64.0" stroke="#231f20" stroke-width="1.0"/>
<text x="428.4" y="66.232" font-size="6.2" text-anchor="end" fill="#231f20" font-weight="normal" textLength="7.2" lengthAdjust="spacingAndGlyphs" stroke="#231f20" stroke-width="0.15">40</text>
<line x1="431.7" y1="49.6" x2="434.4" y2="49.6" stroke="#231f20" stroke-width="1.0"/>
<text x="428.4" y="51.832" font-size="6.2" text-anchor="end" fill="#231f20" font-weight="normal" textLength="7.2" lengthAdjust="spacingAndGlyphs" stroke="#231f20" stroke-width="0.15">60</text>
<line x1="431.7" y1="35.199999999999996" x2="434.4" y2="35.199999999999996" stroke="#231f20" stroke-width="1.0"/>
<text x="428.4" y="37.431999999999995" font-size="6.2" text-anchor="end" fill="#231f20" font-weight="normal" textLength="7.2" lengthAdjust="spacingAndGlyphs" stroke="#231f20" stroke-width="0.15">80</text>
<line x1="431.7" y1="20.799999999999997" x2="434.4" y2="20.799999999999997" stroke="#231f20" stroke-width="1.0"/>
<text x="428.4" y="23.031999999999996" font-size="6.2" text-anchor="end" fill="#231f20" font-weight="normal" textLength="10.800000000000002" lengthAdjust="spacingAndGlyphs" stroke="#231f20" stroke-width="0.15">100</text>
<line x1="434.4" y1="92.8" x2="483.8" y2="92.8" stroke="#231f20" stroke-width="1.0"/>
<rect x="440.1" y="36.928000000000004" width="10.599999999999966" height="55.87199999999999" fill="#231f20"/>
<circle cx="442.5" cy="34.48" r="1.25" fill="#fff" stroke="#231f20" stroke-width="0.8"/>
<circle cx="447" cy="35.2" r="1.25" fill="#fff" stroke="#231f20" stroke-width="0.8"/>
<circle cx="445.5" cy="39.519999999999996" r="1.25" fill="#fff" stroke="#231f20" stroke-width="0.8"/>
<rect x="454" y="61.12" width="10.600000000000023" height="31.68" fill="#27aae1"/>
<circle cx="456" cy="60.76" r="1.25" fill="#fff" stroke="#27aae1" stroke-width="0.8"/>
<circle cx="459.3" cy="60.4" r="1.25" fill="#fff" stroke="#27aae1" stroke-width="0.8"/>
<circle cx="462.5" cy="60.76" r="1.25" fill="#fff" stroke="#27aae1" stroke-width="0.8"/>
<rect x="468.3" y="62.56" width="10.5" height="30.24" fill="#39b54a"/>
<circle cx="470.5" cy="62.56" r="1.25" fill="#fff" stroke="#39b54a" stroke-width="0.8"/>
<circle cx="473.5" cy="59.68" r="1.25" fill="#fff" stroke="#39b54a" stroke-width="0.8"/>
<circle cx="476.5" cy="62.56" r="1.25" fill="#fff" stroke="#39b54a" stroke-width="0.8"/>
<path d="M444.2,23.1 V20.5 H473.5 V23.1" fill="none" stroke="#231f20" stroke-width="0.75"/>
<text x="458.85" y="21.68" font-size="5.6" text-anchor="middle" fill="#231f20" font-weight="normal" stroke="none">***</text>
<path d="M444.2,29.2 V26.2 H459.6 V29.2" fill="none" stroke="#231f20" stroke-width="0.75"/>
<text x="451.9" y="27.380000000000003" font-size="5.6" text-anchor="middle" fill="#231f20" font-weight="normal" stroke="none">**</text>
<circle cx="479.2" cy="20.65" r="1.25" fill="#fff" stroke="#231f20" stroke-width="1.0"/>
<text x="483.9" y="22.349999999999998" font-size="5.0" text-anchor="start" fill="#231f20" font-weight="normal" textLength="17.8" lengthAdjust="spacingAndGlyphs" stroke="#231f20" stroke-width="0.15">CTRLsh</text>
<circle cx="479.2" cy="27.4" r="1.25" fill="#fff" stroke="#27aae1" stroke-width="1.0"/>
<text x="483.9" y="29.099999999999998" font-size="5.0" text-anchor="start" fill="#231f20" font-weight="normal" textLength="28.1" lengthAdjust="spacingAndGlyphs" stroke="#231f20" stroke-width="0.15">SUPT20Hsh</text>
<circle cx="479.2" cy="34.3" r="1.25" fill="#fff" stroke="#39b54a" stroke-width="1.0"/>
<text x="483.9" y="36.0" font-size="5.0" text-anchor="start" fill="#231f20" font-weight="normal" textLength="17.8" lengthAdjust="spacingAndGlyphs" stroke="#231f20" stroke-width="0.15">ZZZ3sh</text>
<text transform="translate(413.4,57.4) rotate(-90)" font-size="6.3" text-anchor="middle" fill="#231f20" font-weight="normal" textLength="50.6" lengthAdjust="spacingAndGlyphs" stroke="#231f20" stroke-width="0.15">CD34+ expression (%)</text>
</g>
<g>
<line x1="43.4" y1="149.5" x2="43.4" y2="232.5" stroke="#231f20" stroke-width="1.0"/>
<line x1="40.4" y1="232.5" x2="43.4" y2="232.5" stroke="#231f20" stroke-width="1.0"/>
<text x="38.0" y="235.16" font-size="6.0" text-anchor="end" fill="#231f20" font-weight="normal" textLength="11.199999999999998" lengthAdjust="spacingAndGlyphs" stroke="#231f20" stroke-width="0.15">0.0</text>
<line x1="40.4" y1="215.9" x2="43.4" y2="215.9" stroke="#231f20" stroke-width="1.0"/>
<text x="38.0" y="218.56" font-size="6.0" text-anchor="end" fill="#231f20" font-weight="normal" textLength="11.199999999999998" lengthAdjust="spacingAndGlyphs" stroke="#231f20" stroke-width="0.15">0.2</text>
<line x1="40.4" y1="199.3" x2="43.4" y2="199.3" stroke="#231f20" stroke-width="1.0"/>
<text x="38.0" y="201.96" font-size="6.0" text-anchor="end" fill="#231f20" font-weight="normal" textLength="11.199999999999998" lengthAdjust="spacingAndGlyphs" stroke="#231f20" stroke-width="0.15">0.4</text>
<line x1="40.4" y1="182.7" x2="43.4" y2="182.7" stroke="#231f20" stroke-width="1.0"/>
<text x="38.0" y="185.35999999999999" font-size="6.0" text-anchor="end" fill="#231f20" font-weight="normal" textLength="11.199999999999998" lengthAdjust="spacingAndGlyphs" stroke="#231f20" stroke-width="0.15">0.6</text>
<line x1="40.4" y1="166.1" x2="43.4" y2="166.1" stroke="#231f20" stroke-width="1.0"/>
<text x="38.0" y="168.76" font-size="6.0" text-anchor="end" fill="#231f20" font-weight="normal" textLength="11.199999999999998" lengthAdjust="spacingAndGlyphs" stroke="#231f20" stroke-width="0.15">0.8</text>
<line x1="40.4" y1="149.5" x2="43.4" y2="149.5" stroke="#231f20" stroke-width="1.0"/>
<text x="38.0" y="152.16" font-size="6.0" text-anchor="end" fill="#231f20" font-weight="normal" textLength="11.199999999999998" lengthAdjust="spacingAndGlyphs" stroke="#231f20" stroke-width="0.15">1.0</text>
<line x1="43.4" y1="232.5" x2="149.9" y2="232.5" stroke="#231f20" stroke-width="1.0"/>
<line x1="68.7" y1="232.5" x2="68.7" y2="234.9" stroke="#231f20" stroke-width="0.7"/>
<line x1="124.7" y1="232.5" x2="124.7" y2="234.9" stroke="#231f20" stroke-width="0.7"/>
<rect x="48.8" y="162.614" width="10.0" height="69.886" fill="#231f20"/>
<line x1="53.8" y1="162.614" x2="53.8" y2="156.389" stroke="#231f20" stroke-width="0.7"/>
<line x1="51.5" y1="156.389" x2="56.099999999999994" y2="156.389" stroke="#231f20" stroke-width="0.7"/>
<circle cx="53.6" cy="157.385" r="1.45" fill="#fff" stroke="#231f20" stroke-width="0.9"/>
<circle cx="50.2" cy="166.1" r="1.45" fill="#fff" stroke="#231f20" stroke-width="0.9"/>
<circle cx="57.3" cy="163.195" r="1.45" fill="#fff" stroke="#231f20" stroke-width="0.9"/>
<rect x="63.9" y="179.79500000000002" width="10.399999999999999" height="52.705" fill="#27aae1"/>
<circle cx="65.5" cy="179.38" r="1.45" fill="#fff" stroke="#27aae1" stroke-width="0.9"/>
<circle cx="68.5" cy="179.38" r="1.45" fill="#fff" stroke="#27aae1" stroke-width="0.9"/>
<circle cx="71.8" cy="179.38" r="1.45" fill="#fff" stroke="#27aae1" stroke-width="0.9"/>
<circle cx="67.6" cy="183.115" r="1.45" fill="#fff" stroke="#27aae1" stroke-width="0.9"/>
<rect x="79.4" y="166.1" width="9.699999999999989" height="66.4" fill="#39b54a"/>
<line x1="84.25" y1="166.1" x2="84.25" y2="157.8" stroke="#39b54a" stroke-width="0.7"/>
<line x1="81.95" y1="157.8" x2="86.55" y2="157.8" stroke="#39b54a" stroke-width="0.7"/>
<circle cx="80.6" cy="161.535" r="1.45" fill="#fff" stroke="#39b54a" stroke-width="0.9"/>
<circle cx="87.8" cy="161.535" r="1.45" fill="#fff" stroke="#39b54a" stroke-width="0.9"/>
<circle cx="84.2" cy="173.985" r="1.45" fill="#fff" stroke="#39b54a" stroke-width="0.9"/>
<rect x="104.8" y="213.742" width="9.700000000000003" height="18.758" fill="#231f20"/>
<circle cx="106.5" cy="213.825" r="1.45" fill="#fff" stroke="#231f20" stroke-width="0.9"/>
<circle cx="109.5" cy="213.825" r="1.45" fill="#fff" stroke="#231f20" stroke-width="0.9"/>
<circle cx="112.5" cy="213.825" r="1.45" fill="#fff" stroke="#231f20" stroke-width="0.9"/>
<circle cx="106.5" cy="215.9" r="1.45" fill="#fff" stroke="#231f20" stroke-width="0.9"/>
<rect x="119.6" y="197.64" width="10.0" height="34.86" fill="#27aae1"/>
<circle cx="121.3" cy="196.395" r="1.45" fill="#fff" stroke="#27aae1" stroke-width="0.9"/>
<circle cx="124.4" cy="197.225" r="1.45" fill="#fff" stroke="#27aae1" stroke-width="0.9"/>
<circle cx="127.5" cy="197.225" r="1.45" fill="#fff" stroke="#27aae1" stroke-width="0.9"/>
<circle cx="121.3" cy="198.885" r="1.45" fill="#fff" stroke="#27aae1" stroke-width="0.9"/>
<rect x="135.1" y="212.58" width="9.5" height="19.919999999999998" fill="#39b54a"/>
<line x1="139.85" y1="212.58" x2="139.85" y2="204.28" stroke="#39b54a" stroke-width="0.7"/>
<line x1="137.54999999999998" y1="204.28" x2="142.15" y2="204.28" stroke="#39b54a" stroke-width="0.7"/>
<circle cx="139.8" cy="204.695" r="1.45" fill="#fff" stroke="#39b54a" stroke-width="0.9"/>
<circle cx="136.4" cy="215.485" r="1.45" fill="#fff" stroke="#39b54a" stroke-width="0.9"/>
<circle cx="143.2" cy="214.24" r="1.45" fill="#fff" stroke="#39b54a" stroke-width="0.9"/>
<path d="M54.2,152.8 V149.5 H68.9 V152.8" fill="none" stroke="#231f20" stroke-width="0.75"/>
<text x="61.550000000000004" y="149.3" font-size="6.0" text-anchor="middle" fill="#231f20" font-weight="normal" stroke="none">*</text>
<path d="M70.0,152.8 V149.5 H84.3 V152.8" fill="none" stroke="#231f20" stroke-width="0.75"/>
<text x="77.15" y="149.3" font-size="6.0" text-anchor="middle" fill="#231f20" font-weight="normal" stroke="none">*</text>
<path d="M108.0,152.8 V149.5 H122.2 V152.8" fill="none" stroke="#231f20" stroke-width="0.75"/>
<text x="115.1" y="149.3" font-size="6.0" text-anchor="middle" fill="#231f20" font-weight="normal" stroke="none">*</text>
<text x="68.7" y="244.0" font-size="7.1" text-anchor="middle" fill="#231f20" font-weight="normal" textLength="20.6" lengthAdjust="spacingAndGlyphs" stroke="#231f20" stroke-width="0.15">Blasts</text>
<text x="124.6" y="244.0" font-size="7.1" text-anchor="middle" fill="#231f20" font-weight="normal" textLength="43.1" lengthAdjust="spacingAndGlyphs" stroke="#231f20" stroke-width="0.15">Differentiated</text>
<text transform="translate(20.6,191.1) rotate(-90)" font-size="8.4" text-anchor="middle" fill="#231f20" font-weight="normal" textLength="41.1" lengthAdjust="spacingAndGlyphs" stroke="#231f20" stroke-width="0.15">Cell proportion</text>
<circle cx="42.8" cy="138.1" r="1.5" fill="#fff" stroke="#231f20" stroke-width="0.95"/>
<text x="47.7" y="140.4" font-size="6.5" text-anchor="start" fill="#231f20" font-weight="normal" textLength="24.3" lengthAdjust="spacingAndGlyphs" stroke="#231f20" stroke-width="0.15">CTRLsh</text>
<circle cx="76.9" cy="138.1" r="1.5" fill="#fff" stroke="#27aae1" stroke-width="0.95"/>
<text x="80.8" y="140.4" font-size="6.5" text-anchor="start" fill="#231f20" font-weight="normal" textLength="38.0" lengthAdjust="spacingAndGlyphs" stroke="#231f20" stroke-width="0.15">SUPT20Hsh</text>
<circle cx="123.9" cy="138.1" r="1.5" fill="#fff" stroke="#39b54a" stroke-width="0.95"/>
<text x="128.0" y="140.4" font-size="6.5" text-anchor="start" fill="#231f20" font-weight="normal" textLength="24.3" lengthAdjust="spacingAndGlyphs" stroke="#231f20" stroke-width="0.15">ZZZ3sh</text>
</g>
<defs>
<clipPath id="c1"><rect x="194.2" y="156.7" width="103.7" height="70.1"/></clipPath>
<clipPath id="c2"><rect x="299" y="156.7" width="102.4" height="70.1"/></clipPath>
<clipPath id="c3"><rect x="403" y="156.7" width="101.2" height="70.2"/></clipPath>
<filter id="soft" x="-10%" y="-10%" width="120%" height="120%"><feGaussianBlur stdDeviation="0.3"/></filter>
<filter id="blur2" x="-50%" y="-50%" width="200%" height="200%"><feGaussianBlur stdDeviation="1.2"/></filter>
</defs>
<text x="246" y="153.8" font-size="8.6" text-anchor="middle" fill="#231f20" font-weight="normal" textLength="32" lengthAdjust="spacingAndGlyphs" stroke="#231f20" stroke-width="0.15">CTRLsh</text>
<text x="350.6" y="153.8" font-size="8.6" text-anchor="middle" fill="#231f20" font-weight="normal" textLength="49.6" lengthAdjust="spacingAndGlyphs" stroke="#231f20" stroke-width="0.15">SUPT20Hsh</text>
<text x="453.9" y="153.8" font-size="8.6" text-anchor="middle" fill="#231f20" font-weight="normal" textLength="31" lengthAdjust="spacingAndGlyphs" stroke="#231f20" stroke-width="0.15">ZZZ3sh</text>
<g clip-path="url(#c1)">
<rect x="194.2" y="156.7" width="103.7" height="70.1" fill="#cccbc7"/>
<circle cx="260.2" cy="200.2" r="2.6" fill="#6e5c48" filter="url(#blur2)"/>
<g filter="url(#soft)">
<g transform="rotate(0 222.3 160.0)">
<path d="M236.64,160.00 L236.45,162.77 L235.90,164.94 L234.99,166.82 L233.73,168.45 L232.14,169.81 L230.25,170.89 L228.05,171.67 L225.53,172.15 L222.30,172.31 L219.07,172.15 L216.55,171.67 L214.35,170.89 L212.46,169.81 L210.87,168.45 L209.61,166.82 L208.70,164.94 L208.15,162.77 L207.96,160.00 L208.15,157.23 L208.70,155.06 L209.61,153.18 L210.87,151.55 L212.46,150.19 L214.35,149.11 L216.55,148.33 L219.07,147.85 L222.30,147.69 L225.53,147.85 L228.05,148.33 L230.25,149.11 L232.14,150.19 L233.73,151.55 L234.99,153.18 L235.90,155.06 L236.45,157.23 Z" fill="#2458d6" stroke="#eceae2" stroke-width="1.1"/>
<path d="M234.06,160.00 L233.90,162.27 L233.45,164.05 L232.70,165.59 L231.67,166.93 L230.37,168.04 L228.82,168.93 L227.02,169.57 L224.95,169.96 L222.30,170.09 L219.65,169.96 L217.58,169.57 L215.78,168.93 L214.23,168.04 L212.93,166.93 L211.90,165.59 L211.15,164.05 L210.70,162.27 L210.54,160.00 L210.70,157.73 L211.15,155.95 L211.90,154.41 L212.93,153.07 L214.23,151.96 L215.78,151.07 L217.58,150.43 L219.65,150.04 L222.30,149.91 L224.95,150.04 L227.02,150.43 L228.82,151.07 L230.37,151.96 L231.67,153.07 L232.70,154.41 L233.45,155.95 L233.90,157.73 Z" fill="#37409f"/>
</g>
<g transform="rotate(0 244 158)">
<path d="M252.03,158.00 L251.92,159.45 L251.61,160.58 L251.10,161.56 L250.40,162.41 L249.51,163.12 L248.45,163.68 L247.22,164.09 L245.81,164.34 L244.00,164.42 L242.19,164.34 L240.78,164.09 L239.55,163.68 L238.49,163.12 L237.60,162.41 L236.90,161.56 L236.39,160.58 L236.08,159.45 L235.97,158.00 L236.08,156.55 L236.39,155.42 L236.90,154.44 L237.60,153.59 L238.49,152.88 L239.55,152.32 L240.78,151.91 L242.19,151.66 L244.00,151.58 L245.81,151.66 L247.22,151.91 L248.45,152.32 L249.51,152.88 L250.40,153.59 L251.10,154.44 L251.61,155.42 L251.92,156.55 Z" fill="#2458d6" stroke="#eceae2" stroke-width="1.1"/>
<path d="M250.58,158.00 L250.50,159.19 L250.24,160.11 L249.82,160.92 L249.25,161.61 L248.52,162.20 L247.65,162.66 L246.64,162.99 L245.48,163.20 L244.00,163.26 L242.52,163.20 L241.36,162.99 L240.35,162.66 L239.48,162.20 L238.75,161.61 L238.18,160.92 L237.76,160.11 L237.50,159.19 L237.42,158.00 L237.50,156.81 L237.76,155.89 L238.18,155.08 L238.75,154.39 L239.48,153.80 L240.35,153.34 L241.36,153.01 L242.52,152.80 L244.00,152.74 L245.48,152.80 L246.64,153.01 L247.65,153.34 L248.52,153.80 L249.25,154.39 L249.82,155.08 L250.24,155.89 L250.50,156.81 Z" fill="#37409f"/>
</g>
<g transform="rotate(0 261 158.5)">
<path d="M270.20,158.50 L270.08,160.31 L269.73,161.72 L269.14,162.95 L268.33,164.01 L267.32,164.90 L266.10,165.60 L264.69,166.11 L263.07,166.42 L261.00,166.53 L258.93,166.42 L257.31,166.11 L255.90,165.60 L254.68,164.90 L253.67,164.01 L252.86,162.95 L252.27,161.72 L251.92,160.31 L251.80,158.50 L251.92,156.69 L252.27,155.28 L252.86,154.05 L253.67,152.99 L254.68,152.10 L255.90,151.40 L257.31,150.89 L258.93,150.58 L261.00,150.47 L263.07,150.58 L264.69,150.89 L266.10,151.40 L267.32,152.10 L268.33,152.99 L269.14,154.05 L269.73,155.28 L270.08,156.69 Z" fill="#2458d6" stroke="#eceae2" stroke-width="1.1"/>
<path d="M268.55,158.50 L268.45,159.98 L268.16,161.14 L267.68,162.15 L267.01,163.02 L266.18,163.75 L265.18,164.32 L264.03,164.74 L262.70,165.00 L261.00,165.08 L259.30,165.00 L257.97,164.74 L256.82,164.32 L255.82,163.75 L254.99,163.02 L254.32,162.15 L253.84,161.14 L253.55,159.98 L253.45,158.50 L253.55,157.02 L253.84,155.86 L254.32,154.85 L254.99,153.98 L255.82,153.25 L256.82,152.68 L257.97,152.26 L259.30,152.00 L261.00,151.92 L262.70,152.00 L264.03,152.26 L265.18,152.68 L266.18,153.25 L267.01,153.98 L267.68,154.85 L268.16,155.86 L268.45,157.02 Z" fill="#37409f"/>
</g>
<g transform="rotate(0 250.3 170.5)">
<path d="M259.07,170.50 L258.96,172.14 L258.62,173.42 L258.06,174.53 L257.29,175.50 L256.32,176.30 L255.16,176.94 L253.82,177.40 L252.28,177.68 L250.30,177.78 L248.32,177.68 L246.78,177.40 L245.44,176.94 L244.28,176.30 L243.31,175.50 L242.54,174.53 L241.98,173.42 L241.64,172.14 L241.53,170.50 L241.64,168.86 L241.98,167.58 L242.54,166.47 L243.31,165.50 L244.28,164.70 L245.44,164.06 L246.78,163.60 L248.32,163.32 L250.30,163.22 L252.28,163.32 L253.82,163.60 L255.16,164.06 L256.32,164.70 L257.29,165.50 L258.06,166.47 L258.62,167.58 L258.96,168.86 Z" fill="#2458d6" stroke="#eceae2" stroke-width="1.1"/>
<path d="M257.49,170.50 L257.40,171.84 L257.12,172.89 L256.67,173.81 L256.03,174.60 L255.24,175.26 L254.29,175.78 L253.19,176.16 L251.92,176.39 L250.30,176.47 L248.68,176.39 L247.41,176.16 L246.31,175.78 L245.36,175.26 L244.57,174.60 L243.93,173.81 L243.48,172.89 L243.20,171.84 L243.11,170.50 L243.20,169.16 L243.48,168.11 L243.93,167.19 L244.57,166.40 L245.36,165.74 L246.31,165.22 L247.41,164.84 L248.68,164.61 L250.30,164.53 L251.92,164.61 L253.19,164.84 L254.29,165.22 L255.24,165.74 L256.03,166.40 L256.67,167.19 L257.12,168.11 L257.40,169.16 Z" fill="#37409f"/>
</g>
<g transform="rotate(0 265.3 169)">
<path d="M271.72,169.00 L271.64,170.30 L271.39,171.32 L270.98,172.20 L270.42,172.97 L269.71,173.61 L268.86,174.11 L267.88,174.48 L266.75,174.70 L265.30,174.78 L263.85,174.70 L262.72,174.48 L261.74,174.11 L260.89,173.61 L260.18,172.97 L259.62,172.20 L259.21,171.32 L258.96,170.30 L258.88,169.00 L258.96,167.70 L259.21,166.68 L259.62,165.80 L260.18,165.03 L260.89,164.39 L261.74,163.89 L262.72,163.52 L263.85,163.30 L265.30,163.22 L266.75,163.30 L267.88,163.52 L268.86,163.89 L269.71,164.39 L270.42,165.03 L270.98,165.80 L271.39,166.68 L271.64,167.70 Z" fill="#2458d6" stroke="#eceae2" stroke-width="1.1"/>
<path d="M270.56,169.00 L270.50,170.07 L270.29,170.90 L269.96,171.63 L269.50,172.25 L268.91,172.78 L268.22,173.19 L267.41,173.49 L266.49,173.68 L265.30,173.74 L264.11,173.68 L263.19,173.49 L262.38,173.19 L261.69,172.78 L261.10,172.25 L260.64,171.63 L260.31,170.90 L260.10,170.07 L260.04,169.00 L260.10,167.93 L260.31,167.10 L260.64,166.37 L261.10,165.75 L261.69,165.22 L262.38,164.81 L263.19,164.51 L264.11,164.32 L265.30,164.26 L266.49,164.32 L267.41,164.51 L268.22,164.81 L268.91,165.22 L269.50,165.75 L269.96,166.37 L270.29,167.10 L270.50,167.93 Z" fill="#37409f"/>
</g>
<g transform="rotate(0 280.1 169.1)">
<path d="M288.55,169.10 L288.44,170.93 L288.12,172.36 L287.58,173.61 L286.84,174.68 L285.90,175.58 L284.79,176.30 L283.49,176.81 L282.01,177.13 L280.10,177.23 L278.19,177.13 L276.71,176.81 L275.41,176.30 L274.30,175.58 L273.36,174.68 L272.62,173.61 L272.08,172.36 L271.76,170.93 L271.65,169.10 L271.76,167.27 L272.08,165.84 L272.62,164.59 L273.36,163.52 L274.30,162.62 L275.41,161.90 L276.71,161.39 L278.19,161.07 L280.10,160.97 L282.01,161.07 L283.49,161.39 L284.79,161.90 L285.90,162.62 L286.84,163.52 L287.58,164.59 L288.12,165.84 L288.44,167.27 Z" fill="#2458d6" stroke="#eceae2" stroke-width="1.1"/>
<path d="M287.03,169.10 L286.94,170.60 L286.67,171.78 L286.23,172.80 L285.62,173.68 L284.86,174.42 L283.94,175.00 L282.88,175.42 L281.66,175.68 L280.10,175.77 L278.54,175.68 L277.32,175.42 L276.26,175.00 L275.34,174.42 L274.58,173.68 L273.97,172.80 L273.53,171.78 L273.26,170.60 L273.17,169.10 L273.26,167.60 L273.53,166.42 L273.97,165.40 L274.58,164.52 L275.34,163.78 L276.26,163.20 L277.32,162.78 L278.54,162.52 L280.10,162.43 L281.66,162.52 L282.88,162.78 L283.94,163.20 L284.86,163.78 L285.62,164.52 L286.23,165.40 L286.67,166.42 L286.94,167.60 Z" fill="#37409f"/>
</g>
<g transform="rotate(0 230.5 177)">
<path d="M240.24,177.00 L240.11,178.71 L239.73,180.05 L239.12,181.21 L238.26,182.22 L237.18,183.06 L235.90,183.72 L234.41,184.21 L232.69,184.50 L230.50,184.60 L228.31,184.50 L226.59,184.21 L225.10,183.72 L223.82,183.06 L222.74,182.22 L221.88,181.21 L221.27,180.05 L220.89,178.71 L220.76,177.00 L220.89,175.29 L221.27,173.95 L221.88,172.79 L222.74,171.78 L223.82,170.94 L225.10,170.28 L226.59,169.79 L228.31,169.50 L230.50,169.40 L232.69,169.50 L234.41,169.79 L235.90,170.28 L237.18,170.94 L238.26,171.78 L239.12,172.79 L239.73,173.95 L240.11,175.29 Z" fill="#2458d6" stroke="#eceae2" stroke-width="1.1"/>
<path d="M238.48,177.00 L238.38,178.40 L238.07,179.50 L237.56,180.45 L236.86,181.28 L235.98,181.97 L234.93,182.51 L233.70,182.91 L232.30,183.15 L230.50,183.23 L228.70,183.15 L227.30,182.91 L226.07,182.51 L225.02,181.97 L224.14,181.28 L223.44,180.45 L222.93,179.50 L222.62,178.40 L222.52,177.00 L222.62,175.60 L222.93,174.50 L223.44,173.55 L224.14,172.72 L225.02,172.03 L226.07,171.49 L227.30,171.09 L228.70,170.85 L230.50,170.77 L232.30,170.85 L233.70,171.09 L234.93,171.49 L235.98,172.03 L236.86,172.72 L237.56,173.55 L238.07,174.50 L238.38,175.60 Z" fill="#37409f"/>
</g>
<g transform="rotate(0 270.7 183.5)">
<path d="M283.97,183.50 L283.80,185.69 L283.28,187.41 L282.44,188.90 L281.28,190.18 L279.81,191.26 L278.06,192.12 L276.02,192.73 L273.69,193.11 L270.70,193.24 L267.71,193.11 L265.38,192.73 L263.34,192.12 L261.59,191.26 L260.12,190.18 L258.96,188.90 L258.12,187.41 L257.60,185.69 L257.43,183.50 L257.60,181.31 L258.12,179.59 L258.96,178.10 L260.12,176.82 L261.59,175.74 L263.34,174.88 L265.38,174.27 L267.71,173.89 L270.70,173.76 L273.69,173.89 L276.02,174.27 L278.06,174.88 L279.81,175.74 L281.28,176.82 L282.44,178.10 L283.28,179.59 L283.80,181.31 Z" fill="#2458d6" stroke="#eceae2" stroke-width="1.1"/>
<path d="M281.58,183.50 L281.44,185.30 L281.02,186.70 L280.33,187.93 L279.37,188.98 L278.17,189.86 L276.73,190.56 L275.07,191.07 L273.15,191.38 L270.70,191.48 L268.25,191.38 L266.33,191.07 L264.67,190.56 L263.23,189.86 L262.03,188.98 L261.07,187.93 L260.38,186.70 L259.96,185.30 L259.82,183.50 L259.96,181.70 L260.38,180.30 L261.07,179.07 L262.03,178.02 L263.23,177.14 L264.67,176.44 L266.33,175.93 L268.25,175.62 L270.70,175.52 L273.15,175.62 L275.07,175.93 L276.73,176.44 L278.17,177.14 L279.37,178.02 L280.33,179.07 L281.02,180.30 L281.44,181.70 Z" fill="#37409f"/>
</g>
<g transform="rotate(0 195.5 178)">
<path d="M200.64,178.00 L200.57,179.50 L200.37,180.66 L200.04,181.68 L199.59,182.55 L199.03,183.29 L198.35,183.87 L197.56,184.29 L196.66,184.55 L195.50,184.63 L194.34,184.55 L193.44,184.29 L192.65,183.87 L191.97,183.29 L191.41,182.55 L190.96,181.68 L190.63,180.66 L190.43,179.50 L190.36,178.00 L190.43,176.50 L190.63,175.34 L190.96,174.32 L191.41,173.45 L191.97,172.71 L192.65,172.13 L193.44,171.71 L194.34,171.45 L195.50,171.37 L196.66,171.45 L197.56,171.71 L198.35,172.13 L199.03,172.71 L199.59,173.45 L200.04,174.32 L200.37,175.34 L200.57,176.50 Z" fill="#2458d6" stroke="#eceae2" stroke-width="1.1"/>
<path d="M199.71,178.00 L199.66,179.23 L199.49,180.18 L199.23,181.02 L198.86,181.73 L198.39,182.34 L197.83,182.81 L197.19,183.16 L196.45,183.37 L195.50,183.44 L194.55,183.37 L193.81,183.16 L193.17,182.81 L192.61,182.34 L192.14,181.73 L191.77,181.02 L191.51,180.18 L191.34,179.23 L191.29,178.00 L191.34,176.77 L191.51,175.82 L191.77,174.98 L192.14,174.27 L192.61,173.66 L193.17,173.19 L193.81,172.84 L194.55,172.63 L195.50,172.56 L196.45,172.63 L197.19,172.84 L197.83,173.19 L198.39,173.66 L198.86,174.27 L199.23,174.98 L199.49,175.82 L199.66,176.77 Z" fill="#37409f"/>
</g>
<g transform="rotate(0 207.4 185.8)">
<path d="M217.03,185.80 L216.91,187.73 L216.53,189.23 L215.92,190.55 L215.08,191.68 L214.01,192.62 L212.74,193.37 L211.26,193.92 L209.57,194.25 L207.40,194.36 L205.23,194.25 L203.54,193.92 L202.06,193.37 L200.79,192.62 L199.72,191.68 L198.88,190.55 L198.27,189.23 L197.89,187.73 L197.77,185.80 L197.89,183.87 L198.27,182.37 L198.88,181.05 L199.72,179.92 L200.79,178.98 L202.06,178.23 L203.54,177.68 L205.23,177.35 L207.40,177.24 L209.57,177.35 L211.26,177.68 L212.74,178.23 L214.01,178.98 L215.08,179.92 L215.92,181.05 L216.53,182.37 L216.91,183.87 Z" fill="#2458d6" stroke="#eceae2" stroke-width="1.1"/>
<path d="M215.30,185.80 L215.19,187.38 L214.89,188.62 L214.39,189.69 L213.69,190.62 L212.82,191.39 L211.78,192.01 L210.57,192.46 L209.18,192.73 L207.40,192.82 L205.62,192.73 L204.23,192.46 L203.02,192.01 L201.98,191.39 L201.11,190.62 L200.41,189.69 L199.91,188.62 L199.61,187.38 L199.50,185.80 L199.61,184.22 L199.91,182.98 L200.41,181.91 L201.11,180.98 L201.98,180.21 L203.02,179.59 L204.23,179.14 L205.62,178.87 L207.40,178.78 L209.18,178.87 L210.57,179.14 L211.78,179.59 L212.82,180.21 L213.69,180.98 L214.39,181.91 L214.89,182.98 L215.19,184.22 Z" fill="#37409f"/>
</g>
<g transform="rotate(0 236.4 189.2)">
<path d="M245.07,189.20 L244.95,190.79 L244.62,192.03 L244.07,193.12 L243.31,194.05 L242.35,194.83 L241.20,195.45 L239.88,195.90 L238.35,196.17 L236.40,196.26 L234.45,196.17 L232.92,195.90 L231.60,195.45 L230.45,194.83 L229.49,194.05 L228.73,193.12 L228.18,192.03 L227.85,190.79 L227.73,189.20 L227.85,187.61 L228.18,186.37 L228.73,185.28 L229.49,184.35 L230.45,183.57 L231.60,182.95 L232.92,182.50 L234.45,182.23 L236.40,182.14 L238.35,182.23 L239.88,182.50 L241.20,182.95 L242.35,183.57 L243.31,184.35 L244.07,185.28 L244.62,186.37 L244.95,187.61 Z" fill="#2458d6" stroke="#eceae2" stroke-width="1.1"/>
<path d="M243.51,189.20 L243.41,190.51 L243.14,191.52 L242.69,192.41 L242.06,193.18 L241.28,193.82 L240.34,194.32 L239.25,194.69 L238.00,194.92 L236.40,194.99 L234.80,194.92 L233.55,194.69 L232.46,194.32 L231.52,193.82 L230.74,193.18 L230.11,192.41 L229.66,191.52 L229.39,190.51 L229.29,189.20 L229.39,187.89 L229.66,186.88 L230.11,185.99 L230.74,185.22 L231.52,184.58 L232.46,184.08 L233.55,183.71 L234.80,183.48 L236.40,183.41 L238.00,183.48 L239.25,183.71 L240.34,184.08 L241.28,184.58 L242.06,185.22 L242.69,185.99 L243.14,186.88 L243.41,187.89 Z" fill="#37409f"/>
</g>
<g transform="rotate(0 214.2 198.5)">
<path d="M222.12,198.50 L222.02,199.90 L221.71,200.99 L221.21,201.94 L220.51,202.76 L219.64,203.45 L218.59,203.99 L217.38,204.39 L215.98,204.63 L214.20,204.71 L212.42,204.63 L211.02,204.39 L209.81,203.99 L208.76,203.45 L207.89,202.76 L207.19,201.94 L206.69,200.99 L206.38,199.90 L206.28,198.50 L206.38,197.10 L206.69,196.01 L207.19,195.06 L207.89,194.24 L208.76,193.55 L209.81,193.01 L211.02,192.61 L212.42,192.37 L214.20,192.29 L215.98,192.37 L217.38,192.61 L218.59,193.01 L219.64,193.55 L220.51,194.24 L221.21,195.06 L221.71,196.01 L222.02,197.10 Z" fill="#2458d6" stroke="#eceae2" stroke-width="1.1"/>
<path d="M220.69,198.50 L220.61,199.65 L220.36,200.54 L219.94,201.32 L219.38,201.99 L218.66,202.56 L217.80,203.00 L216.81,203.33 L215.66,203.52 L214.20,203.59 L212.74,203.52 L211.59,203.33 L210.60,203.00 L209.74,202.56 L209.02,201.99 L208.46,201.32 L208.04,200.54 L207.79,199.65 L207.71,198.50 L207.79,197.35 L208.04,196.46 L208.46,195.68 L209.02,195.01 L209.74,194.44 L210.60,194.00 L211.59,193.67 L212.74,193.48 L214.20,193.41 L215.66,193.48 L216.81,193.67 L217.80,194.00 L218.66,194.44 L219.38,195.01 L219.94,195.68 L220.36,196.46 L220.61,197.35 Z" fill="#37409f"/>
</g>
<g transform="rotate(0 235.2 204.2)">
<path d="M244.72,204.20 L244.60,205.91 L244.23,207.25 L243.63,208.41 L242.79,209.42 L241.74,210.26 L240.48,210.92 L239.02,211.41 L237.35,211.70 L235.20,211.80 L233.05,211.70 L231.38,211.41 L229.92,210.92 L228.66,210.26 L227.61,209.42 L226.77,208.41 L226.17,207.25 L225.80,205.91 L225.68,204.20 L225.80,202.49 L226.17,201.15 L226.77,199.99 L227.61,198.98 L228.66,198.14 L229.92,197.48 L231.38,196.99 L233.05,196.70 L235.20,196.60 L237.35,196.70 L239.02,196.99 L240.48,197.48 L241.74,198.14 L242.79,198.98 L243.63,199.99 L244.23,201.15 L244.60,202.49 Z" fill="#2458d6" stroke="#eceae2" stroke-width="1.1"/>
<path d="M243.01,204.20 L242.91,205.60 L242.61,206.70 L242.11,207.65 L241.42,208.48 L240.56,209.17 L239.53,209.71 L238.33,210.11 L236.96,210.35 L235.20,210.43 L233.44,210.35 L232.07,210.11 L230.87,209.71 L229.84,209.17 L228.98,208.48 L228.29,207.65 L227.79,206.70 L227.49,205.60 L227.39,204.20 L227.49,202.80 L227.79,201.70 L228.29,200.75 L228.98,199.92 L229.84,199.23 L230.87,198.69 L232.07,198.29 L233.44,198.05 L235.20,197.97 L236.96,198.05 L238.33,198.29 L239.53,198.69 L240.56,199.23 L241.42,199.92 L242.11,200.75 L242.61,201.70 L242.91,202.80 Z" fill="#37409f"/>
</g>
<g transform="rotate(0 219 213.5)">
<path d="M230.88,213.50 L230.72,215.91 L230.26,217.79 L229.51,219.43 L228.47,220.85 L227.15,222.03 L225.58,222.97 L223.77,223.65 L221.68,224.06 L219.00,224.20 L216.32,224.06 L214.23,223.65 L212.42,222.97 L210.85,222.03 L209.53,220.85 L208.49,219.43 L207.74,217.79 L207.28,215.91 L207.12,213.50 L207.28,211.09 L207.74,209.21 L208.49,207.57 L209.53,206.15 L210.85,204.97 L212.42,204.03 L214.23,203.35 L216.32,202.94 L219.00,202.80 L221.68,202.94 L223.77,203.35 L225.58,204.03 L227.15,204.97 L228.47,206.15 L229.51,207.57 L230.26,209.21 L230.72,211.09 Z" fill="#2458d6" stroke="#eceae2" stroke-width="1.1"/>
<path d="M228.74,213.50 L228.61,215.48 L228.24,217.02 L227.62,218.36 L226.76,219.52 L225.69,220.49 L224.40,221.26 L222.91,221.82 L221.19,222.16 L219.00,222.27 L216.81,222.16 L215.09,221.82 L213.60,221.26 L212.31,220.49 L211.24,219.52 L210.38,218.36 L209.76,217.02 L209.39,215.48 L209.26,213.50 L209.39,211.52 L209.76,209.98 L210.38,208.64 L211.24,207.48 L212.31,206.51 L213.60,205.74 L215.09,205.18 L216.81,204.84 L219.00,204.73 L221.19,204.84 L222.91,205.18 L224.40,205.74 L225.69,206.51 L226.76,207.48 L227.62,208.64 L228.24,209.98 L228.61,211.52 Z" fill="#37409f"/>
</g>
</g>
<circle cx="196.2" cy="198.8" r="0.6" fill="#f4f4f0"/>
<polygon points="196.7,216 208,216 202.3,225.2" fill="#0c0c0c"/>
<polygon points="285.7,176.6 285.7,185.6 293.5,181.2" fill="#fff"/>
<polygon points="237.6,212.2 237.6,220.8 246.2,216.5" fill="#fff"/>
<text x="273.05" y="210.5" font-size="6.8" text-anchor="middle" fill="#1e1e1e" font-weight="normal" textLength="21.5" lengthAdjust="spacingAndGlyphs" stroke="#1e1e1e" stroke-width="0.15">50 µm</text>
<rect x="249.9" y="212.79999999999998" width="43.099999999999994" height="1.8" fill="#8d8d8a"/>
<rect x="249.90" y="212.79999999999998" width="8.62" height="1.8" fill="#4e4e4c"/>
<rect x="267.14" y="212.79999999999998" width="8.62" height="1.8" fill="#4e4e4c"/>
<rect x="284.38" y="212.79999999999998" width="8.62" height="1.8" fill="#4e4e4c"/>
</g>
<g clip-path="url(#c2)">
<rect x="299" y="156.7" width="102.4" height="70.1" fill="#d6d1c8"/>
<circle cx="328" cy="169" r="2.2" fill="#8a7055" filter="url(#blur2)"/>
<g filter="url(#soft)">
<g transform="rotate(0 310.2 165)">
<path d="M320.69,165.00 L320.55,166.95 L320.15,168.48 L319.48,169.80 L318.56,170.95 L317.40,171.91 L316.01,172.67 L314.41,173.22 L312.56,173.55 L310.20,173.67 L307.84,173.55 L305.99,173.22 L304.39,172.67 L303.00,171.91 L301.84,170.95 L300.92,169.80 L300.25,168.48 L299.85,166.95 L299.71,165.00 L299.85,163.05 L300.25,161.52 L300.92,160.20 L301.84,159.05 L303.00,158.09 L304.39,157.33 L305.99,156.78 L307.84,156.45 L310.20,156.33 L312.56,156.45 L314.41,156.78 L316.01,157.33 L317.40,158.09 L318.56,159.05 L319.48,160.20 L320.15,161.52 L320.55,163.05 Z" fill="#3f5ccb" stroke="#ede8dd" stroke-width="1.0"/>
<path d="M319.32,165.00 L319.20,166.70 L318.85,168.03 L318.27,169.18 L317.47,170.18 L316.46,171.01 L315.26,171.67 L313.86,172.15 L312.26,172.44 L310.20,172.54 L308.14,172.44 L306.54,172.15 L305.14,171.67 L303.94,171.01 L302.93,170.18 L302.13,169.18 L301.55,168.03 L301.20,166.70 L301.08,165.00 L301.20,163.30 L301.55,161.97 L302.13,160.82 L302.93,159.82 L303.94,158.99 L305.14,158.33 L306.54,157.85 L308.14,157.56 L310.20,157.46 L312.26,157.56 L313.86,157.85 L315.26,158.33 L316.46,158.99 L317.47,159.82 L318.27,160.82 L318.85,161.97 L319.20,163.30 Z" fill="#6f7fd0"/>
<path d="M317.96,165.00 L317.86,166.45 L317.56,167.57 L317.07,168.56 L316.38,169.40 L315.53,170.11 L314.50,170.67 L313.31,171.08 L311.95,171.33 L310.20,171.41 L308.45,171.33 L307.09,171.08 L305.90,170.67 L304.87,170.11 L304.02,169.40 L303.33,168.56 L302.84,167.57 L302.54,166.45 L302.44,165.00 L302.54,163.55 L302.84,162.43 L303.33,161.44 L304.02,160.60 L304.87,159.89 L305.90,159.33 L307.09,158.92 L308.45,158.67 L310.20,158.59 L311.95,158.67 L313.31,158.92 L314.50,159.33 L315.53,159.89 L316.38,160.60 L317.07,161.44 L317.56,162.43 L317.86,163.55 Z" fill="#5150ab"/>
</g>
<g transform="rotate(0 356.2 164.6)">
<path d="M367.01,164.60 L366.87,166.46 L366.45,167.91 L365.76,169.17 L364.81,170.26 L363.62,171.17 L362.19,171.89 L360.54,172.41 L358.64,172.73 L356.20,172.84 L353.76,172.73 L351.86,172.41 L350.21,171.89 L348.78,171.17 L347.59,170.26 L346.64,169.17 L345.95,167.91 L345.53,166.46 L345.39,164.60 L345.53,162.74 L345.95,161.29 L346.64,160.03 L347.59,158.94 L348.78,158.03 L350.21,157.31 L351.86,156.79 L353.76,156.47 L356.20,156.36 L358.64,156.47 L360.54,156.79 L362.19,157.31 L363.62,158.03 L364.81,158.94 L365.76,160.03 L366.45,161.29 L366.87,162.74 Z" fill="#3f5ccb" stroke="#ede8dd" stroke-width="1.0"/>
<path d="M365.60,164.60 L365.48,166.22 L365.12,167.48 L364.52,168.57 L363.69,169.52 L362.65,170.31 L361.41,170.94 L359.97,171.40 L358.32,171.68 L356.20,171.77 L354.08,171.68 L352.43,171.40 L350.99,170.94 L349.75,170.31 L348.71,169.52 L347.88,168.57 L347.28,167.48 L346.92,166.22 L346.80,164.60 L346.92,162.98 L347.28,161.72 L347.88,160.63 L348.71,159.68 L349.75,158.89 L350.99,158.26 L352.43,157.80 L354.08,157.52 L356.20,157.43 L358.32,157.52 L359.97,157.80 L361.41,158.26 L362.65,158.89 L363.69,159.68 L364.52,160.63 L365.12,161.72 L365.48,162.98 Z" fill="#6f7fd0"/>
<path d="M364.20,164.60 L364.09,165.97 L363.78,167.05 L363.28,167.98 L362.57,168.79 L361.69,169.46 L360.63,169.99 L359.41,170.38 L358.00,170.62 L356.20,170.70 L354.40,170.62 L352.99,170.38 L351.77,169.99 L350.71,169.46 L349.83,168.79 L349.12,167.98 L348.62,167.05 L348.31,165.97 L348.20,164.60 L348.31,163.23 L348.62,162.15 L349.12,161.22 L349.83,160.41 L350.71,159.74 L351.77,159.21 L352.99,158.82 L354.40,158.58 L356.20,158.50 L358.00,158.58 L359.41,158.82 L360.63,159.21 L361.69,159.74 L362.57,160.41 L363.28,161.22 L363.78,162.15 L364.09,163.23 Z" fill="#5150ab"/>
</g>
<g transform="rotate(0 371 158.5)">
<path d="M380.95,158.50 L380.82,159.97 L380.44,161.12 L379.80,162.12 L378.93,162.98 L377.83,163.70 L376.52,164.27 L374.99,164.69 L373.24,164.94 L371.00,165.03 L368.76,164.94 L367.01,164.69 L365.48,164.27 L364.17,163.70 L363.07,162.98 L362.20,162.12 L361.56,161.12 L361.18,159.97 L361.05,158.50 L361.18,157.03 L361.56,155.88 L362.20,154.88 L363.07,154.02 L364.17,153.30 L365.48,152.73 L367.01,152.31 L368.76,152.06 L371.00,151.97 L373.24,152.06 L374.99,152.31 L376.52,152.73 L377.83,153.30 L378.93,154.02 L379.80,154.88 L380.44,155.88 L380.82,157.03 Z" fill="#3f5ccb" stroke="#ede8dd" stroke-width="1.0"/>
<path d="M379.66,158.50 L379.55,159.78 L379.21,160.78 L378.66,161.65 L377.90,162.40 L376.94,163.03 L375.80,163.52 L374.47,163.89 L372.95,164.10 L371.00,164.18 L369.05,164.10 L367.53,163.89 L366.20,163.52 L365.06,163.03 L364.10,162.40 L363.34,161.65 L362.79,160.78 L362.45,159.78 L362.34,158.50 L362.45,157.22 L362.79,156.22 L363.34,155.35 L364.10,154.60 L365.06,153.97 L366.20,153.48 L367.53,153.11 L369.05,152.90 L371.00,152.82 L372.95,152.90 L374.47,153.11 L375.80,153.48 L376.94,153.97 L377.90,154.60 L378.66,155.35 L379.21,156.22 L379.55,157.22 Z" fill="#6f7fd0"/>
<path d="M378.36,158.50 L378.27,159.59 L377.98,160.44 L377.52,161.18 L376.87,161.82 L376.06,162.35 L375.08,162.77 L373.95,163.08 L372.66,163.27 L371.00,163.33 L369.34,163.27 L368.05,163.08 L366.92,162.77 L365.94,162.35 L365.13,161.82 L364.48,161.18 L364.02,160.44 L363.73,159.59 L363.64,158.50 L363.73,157.41 L364.02,156.56 L364.48,155.82 L365.13,155.18 L365.94,154.65 L366.92,154.23 L368.05,153.92 L369.34,153.73 L371.00,153.67 L372.66,153.73 L373.95,153.92 L375.08,154.23 L376.06,154.65 L376.87,155.18 L377.52,155.82 L377.98,156.56 L378.27,157.41 Z" fill="#5150ab"/>
</g>
<g transform="rotate(0 361.2 179.5)">
<path d="M372.54,179.50 L372.40,181.28 L371.96,182.68 L371.24,183.89 L370.24,184.94 L368.99,185.81 L367.49,186.51 L365.75,187.01 L363.76,187.32 L361.20,187.42 L358.64,187.32 L356.65,187.01 L354.91,186.51 L353.41,185.81 L352.16,184.94 L351.16,183.89 L350.44,182.68 L350.00,181.28 L349.86,179.50 L350.00,177.72 L350.44,176.32 L351.16,175.11 L352.16,174.06 L353.41,173.19 L354.91,172.49 L356.65,171.99 L358.64,171.68 L361.20,171.58 L363.76,171.68 L365.75,171.99 L367.49,172.49 L368.99,173.19 L370.24,174.06 L371.24,175.11 L371.96,176.32 L372.40,177.72 Z" fill="#3f5ccb" stroke="#ede8dd" stroke-width="1.0"/>
<path d="M371.07,179.50 L370.94,181.05 L370.56,182.26 L369.93,183.32 L369.07,184.23 L367.97,184.99 L366.67,185.59 L365.16,186.03 L363.42,186.30 L361.20,186.39 L358.98,186.30 L357.24,186.03 L355.73,185.59 L354.43,184.99 L353.33,184.23 L352.47,183.32 L351.84,182.26 L351.46,181.05 L351.33,179.50 L351.46,177.95 L351.84,176.74 L352.47,175.68 L353.33,174.77 L354.43,174.01 L355.73,173.41 L357.24,172.97 L358.98,172.70 L361.20,172.61 L363.42,172.70 L365.16,172.97 L366.67,173.41 L367.97,174.01 L369.07,174.77 L369.93,175.68 L370.56,176.74 L370.94,177.95 Z" fill="#6f7fd0"/>
<path d="M369.59,179.50 L369.48,180.82 L369.16,181.85 L368.63,182.75 L367.89,183.52 L366.96,184.17 L365.85,184.68 L364.57,185.06 L363.09,185.28 L361.20,185.36 L359.31,185.28 L357.83,185.06 L356.55,184.68 L355.44,184.17 L354.51,183.52 L353.77,182.75 L353.24,181.85 L352.92,180.82 L352.81,179.50 L352.92,178.18 L353.24,177.15 L353.77,176.25 L354.51,175.48 L355.44,174.83 L356.55,174.32 L357.83,173.94 L359.31,173.72 L361.20,173.64 L363.09,173.72 L364.57,173.94 L365.85,174.32 L366.96,174.83 L367.89,175.48 L368.63,176.25 L369.16,177.15 L369.48,178.18 Z" fill="#5150ab"/>
</g>
<g transform="rotate(0 299.5 186.5)">
<path d="M306.13,186.50 L306.05,188.67 L305.79,190.36 L305.37,191.84 L304.79,193.11 L304.05,194.18 L303.18,195.02 L302.16,195.63 L301.00,196.01 L299.50,196.13 L298.00,196.01 L296.84,195.63 L295.82,195.02 L294.95,194.18 L294.21,193.11 L293.63,191.84 L293.21,190.36 L292.95,188.67 L292.87,186.50 L292.95,184.33 L293.21,182.64 L293.63,181.16 L294.21,179.89 L294.95,178.82 L295.82,177.98 L296.84,177.37 L298.00,176.99 L299.50,176.87 L301.00,176.99 L302.16,177.37 L303.18,177.98 L304.05,178.82 L304.79,179.89 L305.37,181.16 L305.79,182.64 L306.05,184.33 Z" fill="#3f5ccb" stroke="#ede8dd" stroke-width="1.0"/>
<path d="M305.27,186.50 L305.20,188.39 L304.97,189.86 L304.61,191.14 L304.10,192.25 L303.46,193.18 L302.70,193.91 L301.82,194.45 L300.80,194.77 L299.50,194.88 L298.20,194.77 L297.18,194.45 L296.30,193.91 L295.54,193.18 L294.90,192.25 L294.39,191.14 L294.03,189.86 L293.80,188.39 L293.73,186.50 L293.80,184.61 L294.03,183.14 L294.39,181.86 L294.90,180.75 L295.54,179.82 L296.30,179.09 L297.18,178.55 L298.20,178.23 L299.50,178.12 L300.80,178.23 L301.82,178.55 L302.70,179.09 L303.46,179.82 L304.10,180.75 L304.61,181.86 L304.97,183.14 L305.20,184.61 Z" fill="#6f7fd0"/>
<path d="M304.41,186.50 L304.35,188.11 L304.16,189.36 L303.84,190.45 L303.41,191.39 L302.87,192.18 L302.22,192.81 L301.47,193.26 L300.61,193.53 L299.50,193.63 L298.39,193.53 L297.53,193.26 L296.78,192.81 L296.13,192.18 L295.59,191.39 L295.16,190.45 L294.84,189.36 L294.65,188.11 L294.59,186.50 L294.65,184.89 L294.84,183.64 L295.16,182.55 L295.59,181.61 L296.13,180.82 L296.78,180.19 L297.53,179.74 L298.39,179.47 L299.50,179.37 L300.61,179.47 L301.47,179.74 L302.22,180.19 L302.87,180.82 L303.41,181.61 L303.84,182.55 L304.16,183.64 L304.35,184.89 Z" fill="#5150ab"/>
</g>
<g transform="rotate(0 352 196)">
<path d="M365.48,196.00 L365.31,199.28 L364.79,201.84 L363.93,204.07 L362.75,205.99 L361.26,207.60 L359.47,208.88 L357.41,209.80 L355.04,210.36 L352.00,210.55 L348.96,210.36 L346.59,209.80 L344.53,208.88 L342.74,207.60 L341.25,205.99 L340.07,204.07 L339.21,201.84 L338.69,199.28 L338.52,196.00 L338.69,192.72 L339.21,190.16 L340.07,187.93 L341.25,186.01 L342.74,184.40 L344.53,183.12 L346.59,182.20 L348.96,181.64 L352.00,181.45 L355.04,181.64 L357.41,182.20 L359.47,183.12 L361.26,184.40 L362.75,186.01 L363.93,187.93 L364.79,190.16 L365.31,192.72 Z" fill="#3f5ccb" stroke="#ede8dd" stroke-width="1.0"/>
<path d="M363.73,196.00 L363.58,198.85 L363.12,201.08 L362.38,203.02 L361.35,204.69 L360.05,206.09 L358.50,207.20 L356.71,208.01 L354.64,208.50 L352.00,208.66 L349.36,208.50 L347.29,208.01 L345.50,207.20 L343.95,206.09 L342.65,204.69 L341.62,203.02 L340.88,201.08 L340.42,198.85 L340.27,196.00 L340.42,193.15 L340.88,190.92 L341.62,188.98 L342.65,187.31 L343.95,185.91 L345.50,184.80 L347.29,183.99 L349.36,183.50 L352.00,183.34 L354.64,183.50 L356.71,183.99 L358.50,184.80 L360.05,185.91 L361.35,187.31 L362.38,188.98 L363.12,190.92 L363.58,193.15 Z" fill="#6f7fd0"/>
<path d="M361.98,196.00 L361.85,198.43 L361.46,200.32 L360.83,201.97 L359.95,203.39 L358.85,204.58 L357.53,205.53 L356.00,206.21 L354.25,206.63 L352.00,206.77 L349.75,206.63 L348.00,206.21 L346.47,205.53 L345.15,204.58 L344.05,203.39 L343.17,201.97 L342.54,200.32 L342.15,198.43 L342.02,196.00 L342.15,193.57 L342.54,191.68 L343.17,190.03 L344.05,188.61 L345.15,187.42 L346.47,186.47 L348.00,185.79 L349.75,185.37 L352.00,185.23 L354.25,185.37 L356.00,185.79 L357.53,186.47 L358.85,187.42 L359.95,188.61 L360.83,190.03 L361.46,191.68 L361.85,193.57 Z" fill="#5150ab"/>
</g>
<g transform="rotate(0 373 193.9)">
<path d="M383.17,193.90 L383.03,196.41 L382.64,198.37 L381.99,200.07 L381.10,201.54 L379.98,202.77 L378.64,203.75 L377.08,204.45 L375.29,204.88 L373.00,205.03 L370.71,204.88 L368.92,204.45 L367.36,203.75 L366.02,202.77 L364.90,201.54 L364.01,200.07 L363.36,198.37 L362.97,196.41 L362.83,193.90 L362.97,191.39 L363.36,189.43 L364.01,187.73 L364.90,186.26 L366.02,185.03 L367.36,184.05 L368.92,183.35 L370.71,182.92 L373.00,182.77 L375.29,182.92 L377.08,183.35 L378.64,184.05 L379.98,185.03 L381.10,186.26 L381.99,187.73 L382.64,189.43 L383.03,191.39 Z" fill="#3f5ccb" stroke="#ede8dd" stroke-width="1.0"/>
<path d="M381.84,193.90 L381.73,196.08 L381.39,197.78 L380.82,199.27 L380.05,200.55 L379.07,201.62 L377.90,202.47 L376.55,203.08 L374.99,203.46 L373.00,203.58 L371.01,203.46 L369.45,203.08 L368.10,202.47 L366.93,201.62 L365.95,200.55 L365.18,199.27 L364.61,197.78 L364.27,196.08 L364.16,193.90 L364.27,191.72 L364.61,190.02 L365.18,188.53 L365.95,187.25 L366.93,186.18 L368.10,185.33 L369.45,184.72 L371.01,184.34 L373.00,184.22 L374.99,184.34 L376.55,184.72 L377.90,185.33 L379.07,186.18 L380.05,187.25 L380.82,188.53 L381.39,190.02 L381.73,191.72 Z" fill="#6f7fd0"/>
<path d="M380.52,193.90 L380.42,195.76 L380.13,197.20 L379.66,198.47 L379.00,199.55 L378.16,200.46 L377.17,201.19 L376.02,201.71 L374.70,202.03 L373.00,202.13 L371.30,202.03 L369.98,201.71 L368.83,201.19 L367.84,200.46 L367.00,199.55 L366.34,198.47 L365.87,197.20 L365.58,195.76 L365.48,193.90 L365.58,192.04 L365.87,190.60 L366.34,189.33 L367.00,188.25 L367.84,187.34 L368.83,186.61 L369.98,186.09 L371.30,185.77 L373.00,185.67 L374.70,185.77 L376.02,186.09 L377.17,186.61 L378.16,187.34 L379.00,188.25 L379.66,189.33 L380.13,190.60 L380.42,192.04 Z" fill="#5150ab"/>
</g>
<g transform="rotate(0 329.3 199.5)">
<path d="M339.36,199.50 L339.23,201.94 L338.84,203.84 L338.20,205.49 L337.32,206.92 L336.21,208.11 L334.88,209.06 L333.34,209.75 L331.57,210.17 L329.30,210.31 L327.03,210.17 L325.26,209.75 L323.72,209.06 L322.39,208.11 L321.28,206.92 L320.40,205.49 L319.76,203.84 L319.37,201.94 L319.24,199.50 L319.37,197.06 L319.76,195.16 L320.40,193.51 L321.28,192.08 L322.39,190.89 L323.72,189.94 L325.26,189.25 L327.03,188.83 L329.30,188.69 L331.57,188.83 L333.34,189.25 L334.88,189.94 L336.21,190.89 L337.32,192.08 L338.20,193.51 L338.84,195.16 L339.23,197.06 Z" fill="#3f5ccb" stroke="#ede8dd" stroke-width="1.0"/>
<path d="M338.05,199.50 L337.94,201.62 L337.60,203.27 L337.04,204.71 L336.27,205.95 L335.31,206.99 L334.15,207.82 L332.81,208.42 L331.27,208.78 L329.30,208.90 L327.33,208.78 L325.79,208.42 L324.45,207.82 L323.29,206.99 L322.33,205.95 L321.56,204.71 L321.00,203.27 L320.66,201.62 L320.55,199.50 L320.66,197.38 L321.00,195.73 L321.56,194.29 L322.33,193.05 L323.29,192.01 L324.45,191.18 L325.79,190.58 L327.33,190.22 L329.30,190.10 L331.27,190.22 L332.81,190.58 L334.15,191.18 L335.31,192.01 L336.27,193.05 L337.04,194.29 L337.60,195.73 L337.94,197.38 Z" fill="#6f7fd0"/>
<path d="M336.74,199.50 L336.65,201.30 L336.36,202.71 L335.89,203.93 L335.23,204.99 L334.41,205.87 L333.43,206.58 L332.29,207.08 L330.98,207.39 L329.30,207.50 L327.62,207.39 L326.31,207.08 L325.17,206.58 L324.19,205.87 L323.37,204.99 L322.71,203.93 L322.24,202.71 L321.95,201.30 L321.86,199.50 L321.95,197.70 L322.24,196.29 L322.71,195.07 L323.37,194.01 L324.19,193.13 L325.17,192.42 L326.31,191.92 L327.62,191.61 L329.30,191.50 L330.98,191.61 L332.29,191.92 L333.43,192.42 L334.41,193.13 L335.23,194.01 L335.89,195.07 L336.36,196.29 L336.65,197.70 Z" fill="#5150ab"/>
</g>
<g transform="rotate(0 341.2 206.8)">
<path d="M350.83,206.80 L350.71,208.61 L350.33,210.02 L349.72,211.25 L348.88,212.31 L347.81,213.20 L346.54,213.90 L345.06,214.41 L343.37,214.72 L341.20,214.83 L339.03,214.72 L337.34,214.41 L335.86,213.90 L334.59,213.20 L333.52,212.31 L332.68,211.25 L332.07,210.02 L331.69,208.61 L331.57,206.80 L331.69,204.99 L332.07,203.58 L332.68,202.35 L333.52,201.29 L334.59,200.40 L335.86,199.70 L337.34,199.19 L339.03,198.88 L341.20,198.78 L343.37,198.88 L345.06,199.19 L346.54,199.70 L347.81,200.40 L348.88,201.29 L349.72,202.35 L350.33,203.58 L350.71,204.99 Z" fill="#3f5ccb" stroke="#ede8dd" stroke-width="1.0"/>
<path d="M349.58,206.80 L349.47,208.37 L349.15,209.60 L348.61,210.67 L347.88,211.59 L346.95,212.36 L345.84,212.98 L344.56,213.42 L343.09,213.69 L341.20,213.78 L339.31,213.69 L337.84,213.42 L336.56,212.98 L335.45,212.36 L334.52,211.59 L333.79,210.67 L333.25,209.60 L332.93,208.37 L332.82,206.80 L332.93,205.23 L333.25,204.00 L333.79,202.93 L334.52,202.01 L335.45,201.24 L336.56,200.62 L337.84,200.18 L339.31,199.91 L341.20,199.82 L343.09,199.91 L344.56,200.18 L345.84,200.62 L346.95,201.24 L347.88,202.01 L348.61,202.93 L349.15,204.00 L349.47,205.23 Z" fill="#6f7fd0"/>
<path d="M348.33,206.80 L348.23,208.14 L347.96,209.18 L347.51,210.09 L346.88,210.88 L346.09,211.53 L345.15,212.05 L344.06,212.43 L342.81,212.66 L341.20,212.74 L339.59,212.66 L338.34,212.43 L337.25,212.05 L336.31,211.53 L335.52,210.88 L334.89,210.09 L334.44,209.18 L334.17,208.14 L334.07,206.80 L334.17,205.46 L334.44,204.42 L334.89,203.51 L335.52,202.72 L336.31,202.07 L337.25,201.55 L338.34,201.17 L339.59,200.94 L341.20,200.86 L342.81,200.94 L344.06,201.17 L345.15,201.55 L346.09,202.07 L346.88,202.72 L347.51,203.51 L347.96,204.42 L348.23,205.46 Z" fill="#5150ab"/>
</g>
<g transform="rotate(0 343 216.5)">
<path d="M352.20,216.50 L352.08,218.21 L351.73,219.55 L351.14,220.71 L350.33,221.72 L349.32,222.56 L348.10,223.22 L346.69,223.71 L345.07,224.00 L343.00,224.10 L340.93,224.00 L339.31,223.71 L337.90,223.22 L336.68,222.56 L335.67,221.72 L334.86,220.71 L334.27,219.55 L333.92,218.21 L333.80,216.50 L333.92,214.79 L334.27,213.45 L334.86,212.29 L335.67,211.28 L336.68,210.44 L337.90,209.78 L339.31,209.29 L340.93,209.00 L343.00,208.90 L345.07,209.00 L346.69,209.29 L348.10,209.78 L349.32,210.44 L350.33,211.28 L351.14,212.29 L351.73,213.45 L352.08,214.79 Z" fill="#3f5ccb" stroke="#ede8dd" stroke-width="1.0"/>
<path d="M351.01,216.50 L350.90,217.99 L350.59,219.15 L350.08,220.16 L349.38,221.04 L348.50,221.77 L347.44,222.35 L346.21,222.77 L344.80,223.02 L343.00,223.11 L341.20,223.02 L339.79,222.77 L338.56,222.35 L337.50,221.77 L336.62,221.04 L335.92,220.16 L335.41,219.15 L335.10,217.99 L334.99,216.50 L335.10,215.01 L335.41,213.85 L335.92,212.84 L336.62,211.96 L337.50,211.23 L338.56,210.65 L339.79,210.23 L341.20,209.98 L343.00,209.89 L344.80,209.98 L346.21,210.23 L347.44,210.65 L348.50,211.23 L349.38,211.96 L350.08,212.84 L350.59,213.85 L350.90,215.01 Z" fill="#6f7fd0"/>
<path d="M349.81,216.50 L349.72,217.77 L349.46,218.76 L349.02,219.62 L348.43,220.36 L347.67,220.98 L346.78,221.47 L345.73,221.83 L344.53,222.05 L343.00,222.12 L341.47,222.05 L340.27,221.83 L339.22,221.47 L338.33,220.98 L337.57,220.36 L336.98,219.62 L336.54,218.76 L336.28,217.77 L336.19,216.50 L336.28,215.23 L336.54,214.24 L336.98,213.38 L337.57,212.64 L338.33,212.02 L339.22,211.53 L340.27,211.17 L341.47,210.95 L343.00,210.88 L344.53,210.95 L345.73,211.17 L346.78,211.53 L347.67,212.02 L348.43,212.64 L349.02,213.38 L349.46,214.24 L349.72,215.23 Z" fill="#5150ab"/>
</g>
<g transform="rotate(0 299.5 220)">
<ellipse cx="299.5" cy="220" rx="5.50" ry="8.50" fill="#7b62b4" stroke="#ede8dd" stroke-width="0.9"/>
<ellipse cx="299.5" cy="220.0" rx="3.85" ry="5.95" fill="#6a4ea6"/>
</g>
</g>
<circle cx="305.5" cy="199.5" r="0.7" fill="#8a8072"/>
<polygon points="315,185.5 322.5,180 324.5,190.5" fill="#0c0c0c"/>
<polygon points="331,177 339,172.5 340.5,182.5" fill="#0c0c0c"/>
<text x="378.35" y="210.5" font-size="6.8" text-anchor="middle" fill="#1e1e1e" font-weight="normal" textLength="21.5" lengthAdjust="spacingAndGlyphs" stroke="#1e1e1e" stroke-width="0.15">50 µm</text>
<rect x="357.0" y="212.7" width="41.19999999999999" height="1.8" fill="#8d8d8a"/>
<rect x="357.00" y="212.7" width="8.24" height="1.8" fill="#4e4e4c"/>
<rect x="373.48" y="212.7" width="8.24" height="1.8" fill="#4e4e4c"/>
<rect x="389.96" y="212.7" width="8.24" height="1.8" fill="#4e4e4c"/>
</g>
<g clip-path="url(#c3)">
<rect x="403" y="156.7" width="101.2" height="70.2" fill="#d8cfc3"/>
<circle cx="432" cy="197" r="3" fill="#b49f86" filter="url(#blur2)" opacity="0.7"/>
<g filter="url(#soft)">
<g transform="rotate(0 417.2 168.2)">
<ellipse cx="417.2" cy="168.2" rx="9.20" ry="7.90" fill="#6d78c6" stroke="#eee6da" stroke-width="0.9"/>
<ellipse cx="417.2" cy="168.2" rx="7.91" ry="6.79" fill="#8088cc"/>
<ellipse cx="417.2" cy="168.2" rx="6.62" ry="5.69" fill="#513a92"/>
</g>
<g transform="rotate(0 425 157.5)">
<ellipse cx="425" cy="157.5" rx="11.00" ry="8.00" fill="#6d78c6" stroke="#eee6da" stroke-width="0.9"/>
<ellipse cx="425" cy="157.5" rx="9.46" ry="6.88" fill="#8088cc"/>
<ellipse cx="425.0" cy="157.5" rx="7.92" ry="5.76" fill="#513a92"/>
</g>
<g transform="rotate(0 438.2 164.5)">
<ellipse cx="438.2" cy="164.5" rx="7.40" ry="7.60" fill="#6d78c6" stroke="#eee6da" stroke-width="0.9"/>
<ellipse cx="438.2" cy="164.5" rx="6.36" ry="6.54" fill="#8088cc"/>
<ellipse cx="438.2" cy="164.5" rx="5.33" ry="5.47" fill="#513a92"/>
</g>
<g transform="rotate(0 407 156)">
<ellipse cx="407" cy="156" rx="4.00" ry="3.00" fill="#6d78c6" stroke="#eee6da" stroke-width="0.9"/>
<ellipse cx="407" cy="156" rx="3.44" ry="2.58" fill="#8088cc"/>
<ellipse cx="407.0" cy="156.0" rx="2.88" ry="2.16" fill="#513a92"/>
</g>
<g transform="rotate(0 475 157)">
<ellipse cx="475" cy="157" rx="8.00" ry="7.00" fill="#6d78c6" stroke="#eee6da" stroke-width="0.9"/>
<ellipse cx="475" cy="157" rx="6.88" ry="6.02" fill="#8088cc"/>
<ellipse cx="475.0" cy="157.0" rx="5.76" ry="5.04" fill="#513a92"/>
</g>
<g transform="rotate(0 503 180)">
<ellipse cx="503" cy="180" rx="6.00" ry="9.00" fill="#6d78c6" stroke="#eee6da" stroke-width="0.9"/>
<ellipse cx="503" cy="180" rx="5.16" ry="7.74" fill="#8088cc"/>
<ellipse cx="503.0" cy="180.0" rx="4.32" ry="6.48" fill="#513a92"/>
</g>
<g transform="rotate(0 445.5 190.3)">
<ellipse cx="445.5" cy="190.3" rx="8.50" ry="8.30" fill="#6d78c6" stroke="#eee6da" stroke-width="0.9"/>
<ellipse cx="445.5" cy="190.3" rx="7.31" ry="7.14" fill="#8088cc"/>
<ellipse cx="445.5" cy="190.3" rx="6.12" ry="5.98" fill="#513a92"/>
</g>
<g transform="rotate(0 462.7 190.3)">
<ellipse cx="462.7" cy="190.3" rx="7.20" ry="7.20" fill="#6d78c6" stroke="#eee6da" stroke-width="0.9"/>
<ellipse cx="462.7" cy="190.3" rx="6.19" ry="6.19" fill="#8088cc"/>
<ellipse cx="462.7" cy="190.3" rx="5.18" ry="5.18" fill="#513a92"/>
</g>
<g transform="rotate(0 478.3 187)">
<ellipse cx="478.3" cy="187" rx="7.20" ry="7.10" fill="#6d78c6" stroke="#eee6da" stroke-width="0.9"/>
<ellipse cx="478.3" cy="187" rx="6.19" ry="6.11" fill="#8088cc"/>
<ellipse cx="478.3" cy="187.0" rx="5.18" ry="5.11" fill="#513a92"/>
</g>
<g transform="rotate(0 454.2 201.2)">
<ellipse cx="454.2" cy="201.2" rx="8.20" ry="5.80" fill="#6d78c6" stroke="#eee6da" stroke-width="0.9"/>
<ellipse cx="454.2" cy="201.2" rx="7.05" ry="4.99" fill="#8088cc"/>
<ellipse cx="454.2" cy="201.2" rx="5.90" ry="4.18" fill="#513a92"/>
</g>
<g transform="rotate(0 469.4 206.5)">
<ellipse cx="469.4" cy="206.5" rx="7.10" ry="6.90" fill="#6d78c6" stroke="#eee6da" stroke-width="0.9"/>
<ellipse cx="469.4" cy="206.5" rx="6.11" ry="5.93" fill="#8088cc"/>
<ellipse cx="469.4" cy="206.5" rx="5.11" ry="4.97" fill="#513a92"/>
</g>
<g transform="rotate(0 454.5 211.8)">
<ellipse cx="454.5" cy="211.8" rx="8.60" ry="5.60" fill="#6d78c6" stroke="#eee6da" stroke-width="0.9"/>
<ellipse cx="454.5" cy="211.8" rx="7.40" ry="4.82" fill="#8088cc"/>
<ellipse cx="454.5" cy="211.8" rx="6.19" ry="4.03" fill="#513a92"/>
</g>
<g transform="rotate(0 409.5 216)">
<ellipse cx="409.5" cy="216" rx="7.20" ry="8.60" fill="#6d78c6" stroke="#eee6da" stroke-width="0.9"/>
<ellipse cx="409.5" cy="216" rx="6.19" ry="7.40" fill="#8088cc"/>
<ellipse cx="409.5" cy="216.0" rx="5.18" ry="6.19" fill="#513a92"/>
</g>
<g transform="rotate(0 420 222.5)">
<ellipse cx="420" cy="222.5" rx="7.10" ry="6.10" fill="#6d78c6" stroke="#eee6da" stroke-width="0.9"/>
<ellipse cx="420" cy="222.5" rx="6.11" ry="5.25" fill="#8088cc"/>
<ellipse cx="420.0" cy="222.5" rx="5.11" ry="4.39" fill="#513a92"/>
</g>
<g transform="rotate(0 433.5 224)">
<ellipse cx="433.5" cy="224" rx="6.60" ry="5.10" fill="#6d78c6" stroke="#eee6da" stroke-width="0.9"/>
<ellipse cx="433.5" cy="224" rx="5.68" ry="4.39" fill="#8088cc"/>
<ellipse cx="433.5" cy="224.0" rx="4.75" ry="3.67" fill="#513a92"/>
</g>
<g transform="rotate(0 449 222.5)">
<ellipse cx="449" cy="222.5" rx="7.60" ry="6.10" fill="#6d78c6" stroke="#eee6da" stroke-width="0.9"/>
<ellipse cx="449" cy="222.5" rx="6.54" ry="5.25" fill="#8088cc"/>
<ellipse cx="449.0" cy="222.5" rx="5.47" ry="4.39" fill="#513a92"/>
</g>
<g transform="rotate(0 468.5 222)">
<ellipse cx="468.5" cy="222" rx="10.00" ry="7.10" fill="#6d78c6" stroke="#eee6da" stroke-width="0.9"/>
<ellipse cx="468.5" cy="222" rx="8.60" ry="6.11" fill="#8088cc"/>
<ellipse cx="468.5" cy="222.0" rx="7.20" ry="5.11" fill="#513a92"/>
</g>
<g transform="rotate(0 501 210.5)">
<ellipse cx="501" cy="210.5" rx="5.60" ry="7.20" fill="#6d78c6" stroke="#eee6da" stroke-width="0.9"/>
<ellipse cx="501" cy="210.5" rx="4.82" ry="6.19" fill="#8088cc"/>
<ellipse cx="501.0" cy="210.5" rx="4.03" ry="5.18" fill="#513a92"/>
</g>
</g>
<circle cx="411.5" cy="199" r="0.7" fill="#7a6a55"/>
<circle cx="498" cy="196.6" r="0.8" fill="#b9955a"/>
<g filter="url(#soft)">
<ellipse cx="492" cy="167" rx="12.6" ry="11" fill="#7f88c9" stroke="#eee6da" stroke-width="0.9"/>
<ellipse cx="489.8" cy="162.5" rx="5.2" ry="4.6" fill="#5b3f98"/>
<ellipse cx="497" cy="170.5" rx="4.6" ry="4.2" fill="#5b3f98"/>
<ellipse cx="499" cy="160" rx="3.8" ry="3.4" fill="#5b3f98"/>
<ellipse cx="484.5" cy="171" rx="3.2" ry="3.0" fill="#5b3f98"/>
</g>
<polygon points="469,167.1 480.1,168.5 472.2,176.1" fill="#0c0c0c"/>
<polygon points="430,202.5 439,199 436,208" fill="#fff"/>
<polygon points="485,193.9 493.1,197.7 486.1,202.5" fill="#fff"/>
<text x="459.8" y="181.4" font-size="6.6" text-anchor="middle" fill="#1e1e1e" font-weight="normal" stroke="#1e1e1e" stroke-width="0.15">1</text>
<text x="483.1" y="210.6" font-size="6.8" text-anchor="middle" fill="#1e1e1e" font-weight="normal" textLength="21.0" lengthAdjust="spacingAndGlyphs" stroke="#1e1e1e" stroke-width="0.15">50 µm</text>
<rect x="462.9" y="213.5" width="36.6" height="1.4" fill="#2a2a2a"/>
</g>
<g>
<line x1="44.5" y1="295.5" x2="44.5" y2="384.5" stroke="#231f20" stroke-width="1.0"/>
<line x1="41.9" y1="384.5" x2="44.5" y2="384.5" stroke="#231f20" stroke-width="1.0"/>
<text x="39.3" y="386.804" font-size="6.4" text-anchor="end" fill="#231f20" font-weight="normal" textLength="10.4" lengthAdjust="spacingAndGlyphs" stroke="#231f20" stroke-width="0.15">0.0</text>
<line x1="41.9" y1="366.7" x2="44.5" y2="366.7" stroke="#231f20" stroke-width="1.0"/>
<text x="39.3" y="369.00399999999996" font-size="6.4" text-anchor="end" fill="#231f20" font-weight="normal" textLength="10.4" lengthAdjust="spacingAndGlyphs" stroke="#231f20" stroke-width="0.15">0.1</text>
<line x1="41.9" y1="348.9" x2="44.5" y2="348.9" stroke="#231f20" stroke-width="1.0"/>
<text x="39.3" y="351.20399999999995" font-size="6.4" text-anchor="end" fill="#231f20" font-weight="normal" textLength="10.4" lengthAdjust="spacingAndGlyphs" stroke="#231f20" stroke-width="0.15">0.2</text>
<line x1="41.9" y1="331.1" x2="44.5" y2="331.1" stroke="#231f20" stroke-width="1.0"/>
<text x="39.3" y="333.404" font-size="6.4" text-anchor="end" fill="#231f20" font-weight="normal" textLength="10.4" lengthAdjust="spacingAndGlyphs" stroke="#231f20" stroke-width="0.15">0.3</text>
<line x1="41.9" y1="313.3" x2="44.5" y2="313.3" stroke="#231f20" stroke-width="1.0"/>
<text x="39.3" y="315.604" font-size="6.4" text-anchor="end" fill="#231f20" font-weight="normal" textLength="10.4" lengthAdjust="spacingAndGlyphs" stroke="#231f20" stroke-width="0.15">0.4</text>
<line x1="41.9" y1="295.5" x2="44.5" y2="295.5" stroke="#231f20" stroke-width="1.0"/>
<text x="39.3" y="297.804" font-size="6.4" text-anchor="end" fill="#231f20" font-weight="normal" textLength="10.4" lengthAdjust="spacingAndGlyphs" stroke="#231f20" stroke-width="0.15">0.5</text>
<line x1="44.5" y1="384.5" x2="148.8" y2="384.5" stroke="#231f20" stroke-width="1.0"/>
<polyline points="70.80,359.40 123.60,354.24" fill="none" stroke="#231f20" stroke-width="1.0"/>
<circle cx="70.8" cy="359.402" r="1.2" fill="#231f20" stroke="#231f20" stroke-width="0.1"/>
<circle cx="123.6" cy="354.24" r="1.2" fill="#231f20" stroke="#231f20" stroke-width="0.1"/>
<polyline points="70.80,361.72 123.60,368.84" fill="none" stroke="#f7941d" stroke-width="1.0"/>
<circle cx="70.8" cy="361.716" r="1.2" fill="#f7941d" stroke="#f7941d" stroke-width="0.1"/>
<circle cx="123.6" cy="368.836" r="1.2" fill="#f7941d" stroke="#f7941d" stroke-width="0.1"/>
<text x="70.5" y="394.3" font-size="7.0" text-anchor="middle" fill="#231f20" font-weight="normal" textLength="22.9" lengthAdjust="spacingAndGlyphs" stroke="#231f20" stroke-width="0.15">Week1</text>
<text x="123.3" y="394.3" font-size="7.0" text-anchor="middle" fill="#231f20" font-weight="normal" textLength="22.9" lengthAdjust="spacingAndGlyphs" stroke="#231f20" stroke-width="0.15">Week2</text>
<line x1="58.3" y1="297.3" x2="64.0" y2="297.3" stroke="#231f20" stroke-width="0.9"/>
<circle cx="61.15" cy="297.3" r="1.25" fill="#231f20" stroke="#231f20" stroke-width="0.1"/>
<text x="68.1" y="299.3" font-size="6.6" text-anchor="start" fill="#231f20" font-weight="normal" textLength="25.3" lengthAdjust="spacingAndGlyphs" stroke="#231f20" stroke-width="0.15">CTRLsh</text>
<line x1="95.9" y1="297.3" x2="102.4" y2="297.3" stroke="#f7941d" stroke-width="0.9"/>
<circle cx="99.15" cy="297.3" r="1.25" fill="#f7941d" stroke="#f7941d" stroke-width="0.1"/>
<text x="104.9" y="299.3" font-size="6.6" text-anchor="start" fill="#231f20" font-weight="normal" textLength="29.4" lengthAdjust="spacingAndGlyphs" stroke="#231f20" stroke-width="0.15">KAT2Ash</text>
<text x="96.4" y="287.0" font-size="7.5" text-anchor="middle" fill="#231f20" font-weight="normal" textLength="22.4" lengthAdjust="spacingAndGlyphs" stroke="#231f20" stroke-width="0.15">AML1</text>
<text transform="translate(22.6,340.2) rotate(-90)" font-size="7.4" text-anchor="middle" fill="#231f20" textLength="62.2" lengthAdjust="spacingAndGlyphs">GFP+ cells (×10<tspan font-size="4.6" dy="-2.6">5</tspan><tspan dy="2.6">/mL)</tspan></text>
<line x1="210.6" y1="293.4" x2="210.6" y2="384.5" stroke="#231f20" stroke-width="1.0"/>
<line x1="208.0" y1="384.5" x2="210.6" y2="384.5" stroke="#231f20" stroke-width="1.0"/>
<text x="205.4" y="386.804" font-size="6.4" text-anchor="end" fill="#231f20" font-weight="normal" textLength="3.6333333333333333" lengthAdjust="spacingAndGlyphs" stroke="#231f20" stroke-width="0.15">0</text>
<line x1="208.0" y1="366.28" x2="210.6" y2="366.28" stroke="#231f20" stroke-width="1.0"/>
<text x="205.4" y="368.58399999999995" font-size="6.4" text-anchor="end" fill="#231f20" font-weight="normal" textLength="3.6333333333333333" lengthAdjust="spacingAndGlyphs" stroke="#231f20" stroke-width="0.15">2</text>
<line x1="208.0" y1="348.06" x2="210.6" y2="348.06" stroke="#231f20" stroke-width="1.0"/>
<text x="205.4" y="350.364" font-size="6.4" text-anchor="end" fill="#231f20" font-weight="normal" textLength="3.6333333333333333" lengthAdjust="spacingAndGlyphs" stroke="#231f20" stroke-width="0.15">4</text>
<line x1="208.0" y1="329.84" x2="210.6" y2="329.84" stroke="#231f20" stroke-width="1.0"/>
<text x="205.4" y="332.14399999999995" font-size="6.4" text-anchor="end" fill="#231f20" font-weight="normal" textLength="3.6333333333333333" lengthAdjust="spacingAndGlyphs" stroke="#231f20" stroke-width="0.15">6</text>
<line x1="208.0" y1="311.62" x2="210.6" y2="311.62" stroke="#231f20" stroke-width="1.0"/>
<text x="205.4" y="313.924" font-size="6.4" text-anchor="end" fill="#231f20" font-weight="normal" textLength="3.6333333333333333" lengthAdjust="spacingAndGlyphs" stroke="#231f20" stroke-width="0.15">8</text>
<line x1="208.0" y1="293.4" x2="210.6" y2="293.4" stroke="#231f20" stroke-width="1.0"/>
<text x="205.4" y="295.70399999999995" font-size="6.4" text-anchor="end" fill="#231f20" font-weight="normal" textLength="7.266666666666667" lengthAdjust="spacingAndGlyphs" stroke="#231f20" stroke-width="0.15">10</text>
<line x1="210.6" y1="384.5" x2="315.4" y2="384.5" stroke="#231f20" stroke-width="1.0"/>
<polyline points="237.50,366.28 290.50,346.24" fill="none" stroke="#231f20" stroke-width="1.0"/>
<circle cx="237.5" cy="366.28" r="1.2" fill="#231f20" stroke="#231f20" stroke-width="0.1"/>
<circle cx="290.5" cy="346.238" r="1.2" fill="#231f20" stroke="#231f20" stroke-width="0.1"/>
<polyline points="237.50,365.37 290.50,368.10" fill="none" stroke="#f7941d" stroke-width="1.0"/>
<circle cx="237.5" cy="365.369" r="1.2" fill="#f7941d" stroke="#f7941d" stroke-width="0.1"/>
<circle cx="290.5" cy="368.102" r="1.2" fill="#f7941d" stroke="#f7941d" stroke-width="0.1"/>
<text x="237.2" y="394.3" font-size="7.0" text-anchor="middle" fill="#231f20" font-weight="normal" textLength="22.9" lengthAdjust="spacingAndGlyphs" stroke="#231f20" stroke-width="0.15">Week1</text>
<text x="290.2" y="394.3" font-size="7.0" text-anchor="middle" fill="#231f20" font-weight="normal" textLength="22.9" lengthAdjust="spacingAndGlyphs" stroke="#231f20" stroke-width="0.15">Week2</text>
<line x1="225.0" y1="297.3" x2="231.9" y2="297.3" stroke="#231f20" stroke-width="0.9"/>
<circle cx="228.45" cy="297.3" r="1.25" fill="#231f20" stroke="#231f20" stroke-width="0.1"/>
<text x="235.3" y="299.3" font-size="6.6" text-anchor="start" fill="#231f20" font-weight="normal" textLength="24.3" lengthAdjust="spacingAndGlyphs" stroke="#231f20" stroke-width="0.15">CTRLsh</text>
<line x1="262.7" y1="297.3" x2="268.1" y2="297.3" stroke="#f7941d" stroke-width="0.9"/>
<circle cx="265.4" cy="297.3" r="1.25" fill="#f7941d" stroke="#f7941d" stroke-width="0.1"/>
<text x="271.4" y="299.3" font-size="6.6" text-anchor="start" fill="#231f20" font-weight="normal" textLength="30.0" lengthAdjust="spacingAndGlyphs" stroke="#231f20" stroke-width="0.15">KAT2Ash</text>
<text x="263.2" y="287.0" font-size="7.5" text-anchor="middle" fill="#231f20" font-weight="normal" textLength="22.4" lengthAdjust="spacingAndGlyphs" stroke="#231f20" stroke-width="0.15">AML2</text>
<text transform="translate(192.0,340.2) rotate(-90)" font-size="7.4" text-anchor="middle" fill="#231f20" textLength="63.9" lengthAdjust="spacingAndGlyphs">GFP+ cells (×10<tspan font-size="4.6" dy="-2.6">5</tspan><tspan dy="2.6">/mL)</tspan></text>
<line x1="373.6" y1="293.81" x2="373.6" y2="384.5" stroke="#231f20" stroke-width="1.0"/>
<line x1="371.0" y1="384.5" x2="373.6" y2="384.5" stroke="#231f20" stroke-width="1.0"/>
<text x="368.4" y="386.804" font-size="6.4" text-anchor="end" fill="#231f20" font-weight="normal" textLength="3.466666666666667" lengthAdjust="spacingAndGlyphs" stroke="#231f20" stroke-width="0.15">0</text>
<line x1="371.0" y1="354.27" x2="373.6" y2="354.27" stroke="#231f20" stroke-width="1.0"/>
<text x="368.4" y="356.57399999999996" font-size="6.4" text-anchor="end" fill="#231f20" font-weight="normal" textLength="3.466666666666667" lengthAdjust="spacingAndGlyphs" stroke="#231f20" stroke-width="0.15">1</text>
<line x1="371.0" y1="324.04" x2="373.6" y2="324.04" stroke="#231f20" stroke-width="1.0"/>
<text x="368.4" y="326.344" font-size="6.4" text-anchor="end" fill="#231f20" font-weight="normal" textLength="3.466666666666667" lengthAdjust="spacingAndGlyphs" stroke="#231f20" stroke-width="0.15">2</text>
<line x1="371.0" y1="293.81" x2="373.6" y2="293.81" stroke="#231f20" stroke-width="1.0"/>
<text x="368.4" y="296.114" font-size="6.4" text-anchor="end" fill="#231f20" font-weight="normal" textLength="3.466666666666667" lengthAdjust="spacingAndGlyphs" stroke="#231f20" stroke-width="0.15">3</text>
<line x1="373.6" y1="384.5" x2="497.5" y2="384.5" stroke="#231f20" stroke-width="1.0"/>
<polyline points="394.30,360.32 435.90,356.08 477.40,357.29" fill="none" stroke="#231f20" stroke-width="1.0"/>
<circle cx="394.3" cy="360.316" r="1.2" fill="#231f20" stroke="#231f20" stroke-width="0.1"/>
<circle cx="435.9" cy="356.0838" r="1.2" fill="#231f20" stroke="#231f20" stroke-width="0.1"/>
<circle cx="477.4" cy="357.293" r="1.2" fill="#231f20" stroke="#231f20" stroke-width="0.1"/>
<polyline points="394.30,374.52 435.90,369.99 477.40,361.83" fill="none" stroke="#27aae1" stroke-width="1.0"/>
<circle cx="394.3" cy="374.5241" r="1.2" fill="#27aae1" stroke="#27aae1" stroke-width="0.1"/>
<circle cx="435.9" cy="369.9896" r="1.2" fill="#27aae1" stroke="#27aae1" stroke-width="0.1"/>
<circle cx="477.4" cy="361.8275" r="1.2" fill="#27aae1" stroke="#27aae1" stroke-width="0.1"/>
<polyline points="394.30,375.13 435.90,379.36 477.40,384.50" fill="none" stroke="#25804a" stroke-width="1.0"/>
<circle cx="394.3" cy="375.1287" r="1.2" fill="#25804a" stroke="#25804a" stroke-width="0.1"/>
<circle cx="435.9" cy="379.3609" r="1.2" fill="#25804a" stroke="#25804a" stroke-width="0.1"/>
<circle cx="477.4" cy="384.5" r="1.2" fill="#25804a" stroke="#25804a" stroke-width="0.1"/>
<text x="394.0" y="394.3" font-size="7.0" text-anchor="middle" fill="#231f20" font-weight="normal" textLength="22.9" lengthAdjust="spacingAndGlyphs" stroke="#231f20" stroke-width="0.15">Week1</text>
<text x="435.6" y="394.3" font-size="7.0" text-anchor="middle" fill="#231f20" font-weight="normal" textLength="22.9" lengthAdjust="spacingAndGlyphs" stroke="#231f20" stroke-width="0.15">Week2</text>
<text x="477.1" y="394.3" font-size="7.0" text-anchor="middle" fill="#231f20" font-weight="normal" textLength="22.9" lengthAdjust="spacingAndGlyphs" stroke="#231f20" stroke-width="0.15">Week3</text>
<line x1="376.3" y1="297.3" x2="383.3" y2="297.3" stroke="#231f20" stroke-width="0.9"/>
<circle cx="379.8" cy="297.3" r="1.25" fill="#231f20" stroke="#231f20" stroke-width="0.1"/>
<text x="386" y="299.3" font-size="6.6" text-anchor="start" fill="#231f20" font-weight="normal" textLength="25" lengthAdjust="spacingAndGlyphs" stroke="#231f20" stroke-width="0.15">CTRLsh</text>
<line x1="414.4" y1="297.3" x2="421.3" y2="297.3" stroke="#27aae1" stroke-width="0.9"/>
<circle cx="417.85" cy="297.3" r="1.25" fill="#27aae1" stroke="#27aae1" stroke-width="0.1"/>
<text x="423" y="299.3" font-size="6.6" text-anchor="start" fill="#231f20" font-weight="normal" textLength="38.8" lengthAdjust="spacingAndGlyphs" stroke="#231f20" stroke-width="0.15">SUPT20Hsh</text>
<line x1="464.6" y1="297.3" x2="471.5" y2="297.3" stroke="#39b54a" stroke-width="0.9"/>
<circle cx="468.05" cy="297.3" r="1.25" fill="#39b54a" stroke="#39b54a" stroke-width="0.1"/>
<text x="474.3" y="299.3" font-size="6.6" text-anchor="start" fill="#231f20" font-weight="normal" textLength="24.9" lengthAdjust="spacingAndGlyphs" stroke="#231f20" stroke-width="0.15">ZZZ3sh</text>
<text x="434.9" y="287.0" font-size="7.5" text-anchor="middle" fill="#231f20" font-weight="normal" textLength="22.6" lengthAdjust="spacingAndGlyphs" stroke="#231f20" stroke-width="0.15">AML3</text>
<text transform="translate(357.4,340.2) rotate(-90)" font-size="7.4" text-anchor="middle" fill="#231f20" textLength="64.8" lengthAdjust="spacingAndGlyphs">GFP+ cells (×10<tspan font-size="4.6" dy="-2.6">6</tspan><tspan dy="2.6">/mL)</tspan></text>
</g>
<g>
<line x1="47.5" y1="455.0" x2="47.5" y2="523.8" stroke="#231f20" stroke-width="1.0"/>
<line x1="44.7" y1="523.8" x2="47.5" y2="523.8" stroke="#231f20" stroke-width="1.0"/>
<text x="42.1" y="525.924" font-size="5.9" text-anchor="end" fill="#231f20" font-weight="normal" textLength="10.0" lengthAdjust="spacingAndGlyphs" stroke="#231f20" stroke-width="0.15">0.0</text>
<line x1="44.7" y1="506.59999999999997" x2="47.5" y2="506.59999999999997" stroke="#231f20" stroke-width="1.0"/>
<text x="42.1" y="508.724" font-size="5.9" text-anchor="end" fill="#231f20" font-weight="normal" textLength="10.0" lengthAdjust="spacingAndGlyphs" stroke="#231f20" stroke-width="0.15">0.5</text>
<line x1="44.7" y1="489.4" x2="47.5" y2="489.4" stroke="#231f20" stroke-width="1.0"/>
<text x="42.1" y="491.524" font-size="5.9" text-anchor="end" fill="#231f20" font-weight="normal" textLength="10.0" lengthAdjust="spacingAndGlyphs" stroke="#231f20" stroke-width="0.15">1.0</text>
<line x1="44.7" y1="472.2" x2="47.5" y2="472.2" stroke="#231f20" stroke-width="1.0"/>
<text x="42.1" y="474.324" font-size="5.9" text-anchor="end" fill="#231f20" font-weight="normal" textLength="10.0" lengthAdjust="spacingAndGlyphs" stroke="#231f20" stroke-width="0.15">1.5</text>
<line x1="44.7" y1="455.0" x2="47.5" y2="455.0" stroke="#231f20" stroke-width="1.0"/>
<text x="42.1" y="457.124" font-size="5.9" text-anchor="end" fill="#231f20" font-weight="normal" textLength="10.0" lengthAdjust="spacingAndGlyphs" stroke="#231f20" stroke-width="0.15">2.0</text>
<line x1="47.5" y1="523.8" x2="107.5" y2="523.8" stroke="#231f20" stroke-width="1.0"/>
<rect x="53.8" y="478.39199999999994" width="10.0" height="45.408000000000015" fill="#231f20"/>
<rect x="67.3" y="470.13599999999997" width="11.200000000000003" height="53.66399999999999" fill="#f7941d"/>
<rect x="81.7" y="471.85599999999994" width="10.799999999999997" height="51.94400000000002" fill="#231f20"/>
<rect x="95.7" y="494.90399999999994" width="10.599999999999994" height="28.896000000000015" fill="#f7941d"/>
<text x="65.5" y="532.7" font-size="7.0" text-anchor="middle" fill="#231f20" font-weight="normal" textLength="18.1" lengthAdjust="spacingAndGlyphs" stroke="#231f20" stroke-width="0.15">AML1</text>
<text x="93.75" y="532.7" font-size="7.0" text-anchor="middle" fill="#231f20" font-weight="normal" textLength="18.1" lengthAdjust="spacingAndGlyphs" stroke="#231f20" stroke-width="0.15">AML2</text>
<rect x="93.1" y="449.40000000000003" width="4.8" height="4.7" fill="#231f20"/>
<text x="101.3" y="454.1" font-size="6.9" text-anchor="start" fill="#231f20" font-weight="normal" textLength="25.3" lengthAdjust="spacingAndGlyphs" stroke="#231f20" stroke-width="0.15">CTRLsh</text>
<rect x="93.1" y="457.5" width="4.8" height="4.7" fill="#f7941d"/>
<text x="101.3" y="462.2" font-size="6.9" text-anchor="start" fill="#231f20" font-weight="normal" textLength="29.3" lengthAdjust="spacingAndGlyphs" stroke="#231f20" stroke-width="0.15">KAT2Ash</text>
<text x="79.55" y="444.0" font-size="6.7" text-anchor="middle" fill="#231f20" font-weight="normal" textLength="76.2" lengthAdjust="spacingAndGlyphs" stroke="#231f20" stroke-width="0.15">MS5 co-culture week 2</text>
<text transform="translate(13.8,489.2) rotate(-90)" font-size="7.4" text-anchor="middle" fill="#231f20" font-weight="normal" textLength="68.3" lengthAdjust="spacingAndGlyphs" stroke="#231f20" stroke-width="0.15">Proportion of GFP+ cells</text>
<text transform="translate(24.3,489.2) rotate(-90)" font-size="7.4" text-anchor="middle" fill="#231f20" font-weight="normal" textLength="58.3" lengthAdjust="spacingAndGlyphs" stroke="#231f20" stroke-width="0.15">in CD34+ population</text>
<line x1="167.6" y1="453.3" x2="167.6" y2="523.8" stroke="#231f20" stroke-width="1.0"/>
<line x1="164.79999999999998" y1="523.8" x2="167.6" y2="523.8" stroke="#231f20" stroke-width="1.0"/>
<text x="162.2" y="525.924" font-size="5.9" text-anchor="end" fill="#231f20" font-weight="normal" textLength="3.3333333333333335" lengthAdjust="spacingAndGlyphs" stroke="#231f20" stroke-width="0.15">0</text>
<line x1="164.79999999999998" y1="509.7" x2="167.6" y2="509.7" stroke="#231f20" stroke-width="1.0"/>
<text x="162.2" y="511.824" font-size="5.9" text-anchor="end" fill="#231f20" font-weight="normal" textLength="3.3333333333333335" lengthAdjust="spacingAndGlyphs" stroke="#231f20" stroke-width="0.15">1</text>
<line x1="164.79999999999998" y1="495.59999999999997" x2="167.6" y2="495.59999999999997" stroke="#231f20" stroke-width="1.0"/>
<text x="162.2" y="497.724" font-size="5.9" text-anchor="end" fill="#231f20" font-weight="normal" textLength="3.3333333333333335" lengthAdjust="spacingAndGlyphs" stroke="#231f20" stroke-width="0.15">2</text>
<line x1="164.79999999999998" y1="481.5" x2="167.6" y2="481.5" stroke="#231f20" stroke-width="1.0"/>
<text x="162.2" y="483.624" font-size="5.9" text-anchor="end" fill="#231f20" font-weight="normal" textLength="3.3333333333333335" lengthAdjust="spacingAndGlyphs" stroke="#231f20" stroke-width="0.15">3</text>
<line x1="164.79999999999998" y1="467.4" x2="167.6" y2="467.4" stroke="#231f20" stroke-width="1.0"/>
<text x="162.2" y="469.524" font-size="5.9" text-anchor="end" fill="#231f20" font-weight="normal" textLength="3.3333333333333335" lengthAdjust="spacingAndGlyphs" stroke="#231f20" stroke-width="0.15">4</text>
<line x1="164.79999999999998" y1="453.3" x2="167.6" y2="453.3" stroke="#231f20" stroke-width="1.0"/>
<text x="162.2" y="455.42400000000004" font-size="5.9" text-anchor="end" fill="#231f20" font-weight="normal" textLength="3.3333333333333335" lengthAdjust="spacingAndGlyphs" stroke="#231f20" stroke-width="0.15">5</text>
<line x1="167.6" y1="523.8" x2="231.25" y2="523.8" stroke="#231f20" stroke-width="1.0"/>
<rect x="178" y="466.977" width="10.25" height="56.82299999999998" fill="#231f20"/>
<rect x="194.5" y="485.72999999999996" width="11.0" height="38.06999999999999" fill="#27aae1"/>
<rect x="211.25" y="517.0319999999999" width="10.75" height="6.768000000000029" fill="#39b54a"/>
<text x="199.5" y="532.7" font-size="7.0" text-anchor="middle" fill="#231f20" font-weight="normal" textLength="18.1" lengthAdjust="spacingAndGlyphs" stroke="#231f20" stroke-width="0.15">AML3</text>
<rect x="208.3" y="449.3" width="4.8" height="4.7" fill="#231f20"/>
<text x="216.8" y="454.0" font-size="6.9" text-anchor="start" fill="#231f20" font-weight="normal" textLength="24.9" lengthAdjust="spacingAndGlyphs" stroke="#231f20" stroke-width="0.15">CTRLsh</text>
<rect x="208.3" y="457.6" width="4.8" height="4.7" fill="#27aae1"/>
<text x="216.8" y="462.3" font-size="6.9" text-anchor="start" fill="#231f20" font-weight="normal" textLength="39.1" lengthAdjust="spacingAndGlyphs" stroke="#231f20" stroke-width="0.15">SUPT20Hsh</text>
<rect x="208.3" y="466.0" width="4.8" height="4.7" fill="#39b54a"/>
<text x="216.8" y="470.7" font-size="6.9" text-anchor="start" fill="#231f20" font-weight="normal" textLength="24.2" lengthAdjust="spacingAndGlyphs" stroke="#231f20" stroke-width="0.15">ZZZ3sh</text>
<text x="199.75" y="444.0" font-size="6.7" text-anchor="middle" fill="#231f20" font-weight="normal" textLength="76.2" lengthAdjust="spacingAndGlyphs" stroke="#231f20" stroke-width="0.15">MS5 co-culture week 2</text>
<text transform="translate(139.8,488.3) rotate(-90)" font-size="7.4" text-anchor="middle" fill="#231f20" font-weight="normal" textLength="70.0" lengthAdjust="spacingAndGlyphs" stroke="#231f20" stroke-width="0.15">Proportion of GFP+ cells</text>
<text transform="translate(150.4,488.8) rotate(-90)" font-size="7.4" text-anchor="middle" fill="#231f20" font-weight="normal" textLength="59.1" lengthAdjust="spacingAndGlyphs" stroke="#231f20" stroke-width="0.15">in CD34+ population</text>
<line x1="298.6" y1="455.0" x2="298.6" y2="523.8" stroke="#231f20" stroke-width="1.0"/>
<line x1="295.8" y1="523.8" x2="298.6" y2="523.8" stroke="#231f20" stroke-width="1.0"/>
<text x="293.2" y="525.924" font-size="5.9" text-anchor="end" fill="#231f20" font-weight="normal" textLength="3.3333333333333335" lengthAdjust="spacingAndGlyphs" stroke="#231f20" stroke-width="0.15">0</text>
<line x1="295.8" y1="506.59999999999997" x2="298.6" y2="506.59999999999997" stroke="#231f20" stroke-width="1.0"/>
<text x="293.2" y="508.724" font-size="5.9" text-anchor="end" fill="#231f20" font-weight="normal" textLength="3.3333333333333335" lengthAdjust="spacingAndGlyphs" stroke="#231f20" stroke-width="0.15">1</text>
<line x1="295.8" y1="489.4" x2="298.6" y2="489.4" stroke="#231f20" stroke-width="1.0"/>
<text x="293.2" y="491.524" font-size="5.9" text-anchor="end" fill="#231f20" font-weight="normal" textLength="3.3333333333333335" lengthAdjust="spacingAndGlyphs" stroke="#231f20" stroke-width="0.15">2</text>
<line x1="295.8" y1="472.2" x2="298.6" y2="472.2" stroke="#231f20" stroke-width="1.0"/>
<text x="293.2" y="474.324" font-size="5.9" text-anchor="end" fill="#231f20" font-weight="normal" textLength="3.3333333333333335" lengthAdjust="spacingAndGlyphs" stroke="#231f20" stroke-width="0.15">3</text>
<line x1="295.8" y1="455.0" x2="298.6" y2="455.0" stroke="#231f20" stroke-width="1.0"/>
<text x="293.2" y="457.124" font-size="5.9" text-anchor="end" fill="#231f20" font-weight="normal" textLength="3.3333333333333335" lengthAdjust="spacingAndGlyphs" stroke="#231f20" stroke-width="0.15">4</text>
<line x1="298.6" y1="523.8" x2="359.0" y2="523.8" stroke="#231f20" stroke-width="1.0"/>
<rect x="305.2" y="473.05999999999995" width="10.0" height="50.74000000000001" fill="#231f20"/>
<rect x="318.7" y="498.85999999999996" width="10.699999999999989" height="24.939999999999998" fill="#f7941d"/>
<rect x="332.9" y="508.83599999999996" width="10.5" height="14.963999999999999" fill="#231f20"/>
<rect x="346.4" y="508.31999999999994" width="11.300000000000011" height="15.480000000000018" fill="#f7941d"/>
<text x="316" y="532.7" font-size="7.0" text-anchor="middle" fill="#231f20" font-weight="normal" textLength="18.1" lengthAdjust="spacingAndGlyphs" stroke="#231f20" stroke-width="0.15">AML1</text>
<text x="344.8" y="532.7" font-size="7.0" text-anchor="middle" fill="#231f20" font-weight="normal" textLength="18.1" lengthAdjust="spacingAndGlyphs" stroke="#231f20" stroke-width="0.15">AML2</text>
<rect x="344.8" y="448.90000000000003" width="4.8" height="4.7" fill="#231f20"/>
<text x="352.5" y="453.6" font-size="6.9" text-anchor="start" fill="#231f20" font-weight="normal" textLength="25.0" lengthAdjust="spacingAndGlyphs" stroke="#231f20" stroke-width="0.15">CTRLsh</text>
<rect x="344.8" y="457.5" width="4.8" height="4.7" fill="#f7941d"/>
<text x="352.5" y="462.2" font-size="6.9" text-anchor="start" fill="#231f20" font-weight="normal" textLength="29.4" lengthAdjust="spacingAndGlyphs" stroke="#231f20" stroke-width="0.15">KAT2Ash</text>
<text x="330.55" y="444.0" font-size="6.7" text-anchor="middle" fill="#231f20" font-weight="normal" textLength="76.2" lengthAdjust="spacingAndGlyphs" stroke="#231f20" stroke-width="0.15">MS5 co-culture week 2</text>
<text transform="translate(270.1,488.4) rotate(-90)" font-size="7.4" text-anchor="middle" fill="#231f20" font-weight="normal" textLength="68.5" lengthAdjust="spacingAndGlyphs" stroke="#231f20" stroke-width="0.15">Proportion of GFP+ cells</text>
<text transform="translate(282.2,488.8) rotate(-90)" font-size="7.4" text-anchor="middle" fill="#231f20" font-weight="normal" textLength="56.4" lengthAdjust="spacingAndGlyphs" stroke="#231f20" stroke-width="0.15">in L-GMP population</text>
<line x1="424.4" y1="452.8" x2="424.4" y2="523.8" stroke="#231f20" stroke-width="1.0"/>
<line x1="421.59999999999997" y1="523.8" x2="424.4" y2="523.8" stroke="#231f20" stroke-width="1.0"/>
<text x="418.99999999999994" y="525.924" font-size="5.9" text-anchor="end" fill="#231f20" font-weight="normal" textLength="10.2" lengthAdjust="spacingAndGlyphs" stroke="#231f20" stroke-width="0.15">0.0</text>
<line x1="421.59999999999997" y1="506.04999999999995" x2="424.4" y2="506.04999999999995" stroke="#231f20" stroke-width="1.0"/>
<text x="418.99999999999994" y="508.174" font-size="5.9" text-anchor="end" fill="#231f20" font-weight="normal" textLength="10.2" lengthAdjust="spacingAndGlyphs" stroke="#231f20" stroke-width="0.15">0.1</text>
<line x1="421.59999999999997" y1="488.29999999999995" x2="424.4" y2="488.29999999999995" stroke="#231f20" stroke-width="1.0"/>
<text x="418.99999999999994" y="490.424" font-size="5.9" text-anchor="end" fill="#231f20" font-weight="normal" textLength="10.2" lengthAdjust="spacingAndGlyphs" stroke="#231f20" stroke-width="0.15">0.2</text>
<line x1="421.59999999999997" y1="470.55" x2="424.4" y2="470.55" stroke="#231f20" stroke-width="1.0"/>
<text x="418.99999999999994" y="472.67400000000004" font-size="5.9" text-anchor="end" fill="#231f20" font-weight="normal" textLength="10.2" lengthAdjust="spacingAndGlyphs" stroke="#231f20" stroke-width="0.15">0.3</text>
<line x1="421.59999999999997" y1="452.8" x2="424.4" y2="452.8" stroke="#231f20" stroke-width="1.0"/>
<text x="418.99999999999994" y="454.92400000000004" font-size="5.9" text-anchor="end" fill="#231f20" font-weight="normal" textLength="10.2" lengthAdjust="spacingAndGlyphs" stroke="#231f20" stroke-width="0.15">0.4</text>
<line x1="424.4" y1="523.8" x2="489.9" y2="523.8" stroke="#231f20" stroke-width="1.0"/>
<rect x="435.7" y="470.54999999999995" width="10.400000000000034" height="53.25" fill="#231f20"/>
<rect x="452.5" y="470.54999999999995" width="10.600000000000023" height="53.25" fill="#27aae1"/>
<rect x="468.9" y="488.29999999999995" width="11.300000000000011" height="35.5" fill="#39b54a"/>
<text x="458" y="532.7" font-size="7.0" text-anchor="middle" fill="#231f20" font-weight="normal" textLength="18.1" lengthAdjust="spacingAndGlyphs" stroke="#231f20" stroke-width="0.15">AML3</text>
<rect x="466.7" y="449.40000000000003" width="4.8" height="4.7" fill="#231f20"/>
<text x="474.4" y="454.1" font-size="6.9" text-anchor="start" fill="#231f20" font-weight="normal" textLength="25.0" lengthAdjust="spacingAndGlyphs" stroke="#231f20" stroke-width="0.15">CTRLsh</text>
<rect x="466.7" y="457.6" width="4.8" height="4.7" fill="#27aae1"/>
<text x="474.4" y="462.3" font-size="6.9" text-anchor="start" fill="#231f20" font-weight="normal" textLength="39.0" lengthAdjust="spacingAndGlyphs" stroke="#231f20" stroke-width="0.15">SUPT20Hsh</text>
<rect x="466.7" y="465.7" width="4.8" height="4.7" fill="#39b54a"/>
<text x="474.4" y="470.4" font-size="6.9" text-anchor="start" fill="#231f20" font-weight="normal" textLength="24.2" lengthAdjust="spacingAndGlyphs" stroke="#231f20" stroke-width="0.15">ZZZ3sh</text>
<text x="458.0" y="444.0" font-size="6.7" text-anchor="middle" fill="#231f20" font-weight="normal" textLength="76.2" lengthAdjust="spacingAndGlyphs" stroke="#231f20" stroke-width="0.15">MS5 co-culture week 2</text>
<text transform="translate(390.9,489.0) rotate(-90)" font-size="7.4" text-anchor="middle" fill="#231f20" font-weight="normal" textLength="67.6" lengthAdjust="spacingAndGlyphs" stroke="#231f20" stroke-width="0.15">Proportion of GFP+ cells</text>
<text transform="translate(401.9,490.0) rotate(-90)" font-size="7.4" text-anchor="middle" fill="#231f20" font-weight="normal" textLength="54.5" lengthAdjust="spacingAndGlyphs" stroke="#231f20" stroke-width="0.15">in L-GMP population</text>
</g>
</svg></body></html>
